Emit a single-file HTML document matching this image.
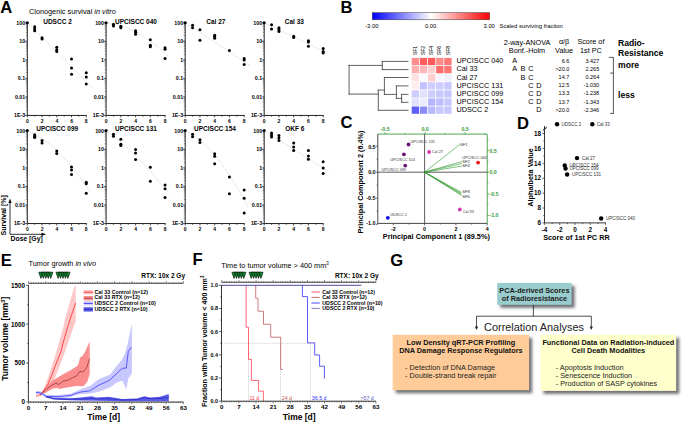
<!DOCTYPE html>
<html><head><meta charset="utf-8"><style>
html,body{margin:0;padding:0;background:#fff;overflow:hidden;}
svg{display:block;font-family:"Liberation Sans", sans-serif;}
</style></head><body>
<svg width="685" height="422" viewBox="0 0 685 422">
<defs>
<linearGradient id="cbar" x1="0" x2="1" y1="0" y2="0">
<stop offset="0" stop-color="#0000ff"/><stop offset="0.5" stop-color="#ffffff"/><stop offset="1" stop-color="#ff0000"/>
</linearGradient>
<filter id="sh" x="-20%" y="-30%" width="140%" height="160%"><feGaussianBlur stdDeviation="1.8"/></filter>
</defs>
<text x="0.30" y="12.60" font-size="16.6" font-weight="bold">A</text>
<text x="340.50" y="13.20" font-size="16.6" font-weight="bold">B</text>
<text x="340.50" y="128.40" font-size="16.6" font-weight="bold">C</text>
<text x="517.00" y="129.40" font-size="16.6" font-weight="bold">D</text>
<text x="0.80" y="265.50" font-size="16.6" font-weight="bold">E</text>
<text x="192.60" y="265.20" font-size="16.6" font-weight="bold">F</text>
<text x="390.20" y="265.70" font-size="16.6" font-weight="bold">G</text>
<text x="29" y="13.9" font-size="7.3">Clonogenic survival <tspan font-style="italic">in vitro</tspan></text>
<polyline points="27.30,22.70 92.16,87.90" stroke="#b8b8b8" stroke-width="0.5" fill="none" stroke-dasharray="1 0.6"/>
<line x1="27.30" y1="22.20" x2="27.30" y2="115.45" stroke="#222" stroke-width="1"/>
<line x1="27.30" y1="115.45" x2="86.76" y2="115.45" stroke="#222" stroke-width="1"/>
<line x1="25.30" y1="22.70" x2="27.30" y2="22.70" stroke="#222" stroke-width="0.8"/>
<line x1="25.90" y1="35.67" x2="27.30" y2="35.67" stroke="#444" stroke-width="0.5"/>
<line x1="25.90" y1="32.40" x2="27.30" y2="32.40" stroke="#444" stroke-width="0.5"/>
<line x1="25.90" y1="30.08" x2="27.30" y2="30.08" stroke="#444" stroke-width="0.5"/>
<line x1="25.90" y1="28.28" x2="27.30" y2="28.28" stroke="#444" stroke-width="0.5"/>
<line x1="25.90" y1="26.82" x2="27.30" y2="26.82" stroke="#444" stroke-width="0.5"/>
<line x1="25.90" y1="25.57" x2="27.30" y2="25.57" stroke="#444" stroke-width="0.5"/>
<line x1="25.90" y1="24.50" x2="27.30" y2="24.50" stroke="#444" stroke-width="0.5"/>
<line x1="25.90" y1="23.55" x2="27.30" y2="23.55" stroke="#444" stroke-width="0.5"/>
<line x1="25.30" y1="41.25" x2="27.30" y2="41.25" stroke="#222" stroke-width="0.8"/>
<line x1="25.90" y1="54.22" x2="27.30" y2="54.22" stroke="#444" stroke-width="0.5"/>
<line x1="25.90" y1="50.95" x2="27.30" y2="50.95" stroke="#444" stroke-width="0.5"/>
<line x1="25.90" y1="48.63" x2="27.30" y2="48.63" stroke="#444" stroke-width="0.5"/>
<line x1="25.90" y1="46.83" x2="27.30" y2="46.83" stroke="#444" stroke-width="0.5"/>
<line x1="25.90" y1="45.37" x2="27.30" y2="45.37" stroke="#444" stroke-width="0.5"/>
<line x1="25.90" y1="44.12" x2="27.30" y2="44.12" stroke="#444" stroke-width="0.5"/>
<line x1="25.90" y1="43.05" x2="27.30" y2="43.05" stroke="#444" stroke-width="0.5"/>
<line x1="25.90" y1="42.10" x2="27.30" y2="42.10" stroke="#444" stroke-width="0.5"/>
<line x1="25.30" y1="59.80" x2="27.30" y2="59.80" stroke="#222" stroke-width="0.8"/>
<line x1="25.90" y1="72.77" x2="27.30" y2="72.77" stroke="#444" stroke-width="0.5"/>
<line x1="25.90" y1="69.50" x2="27.30" y2="69.50" stroke="#444" stroke-width="0.5"/>
<line x1="25.90" y1="67.18" x2="27.30" y2="67.18" stroke="#444" stroke-width="0.5"/>
<line x1="25.90" y1="65.38" x2="27.30" y2="65.38" stroke="#444" stroke-width="0.5"/>
<line x1="25.90" y1="63.92" x2="27.30" y2="63.92" stroke="#444" stroke-width="0.5"/>
<line x1="25.90" y1="62.67" x2="27.30" y2="62.67" stroke="#444" stroke-width="0.5"/>
<line x1="25.90" y1="61.60" x2="27.30" y2="61.60" stroke="#444" stroke-width="0.5"/>
<line x1="25.90" y1="60.65" x2="27.30" y2="60.65" stroke="#444" stroke-width="0.5"/>
<line x1="25.30" y1="78.35" x2="27.30" y2="78.35" stroke="#222" stroke-width="0.8"/>
<line x1="25.90" y1="91.32" x2="27.30" y2="91.32" stroke="#444" stroke-width="0.5"/>
<line x1="25.90" y1="88.05" x2="27.30" y2="88.05" stroke="#444" stroke-width="0.5"/>
<line x1="25.90" y1="85.73" x2="27.30" y2="85.73" stroke="#444" stroke-width="0.5"/>
<line x1="25.90" y1="83.93" x2="27.30" y2="83.93" stroke="#444" stroke-width="0.5"/>
<line x1="25.90" y1="82.47" x2="27.30" y2="82.47" stroke="#444" stroke-width="0.5"/>
<line x1="25.90" y1="81.22" x2="27.30" y2="81.22" stroke="#444" stroke-width="0.5"/>
<line x1="25.90" y1="80.15" x2="27.30" y2="80.15" stroke="#444" stroke-width="0.5"/>
<line x1="25.90" y1="79.20" x2="27.30" y2="79.20" stroke="#444" stroke-width="0.5"/>
<line x1="25.30" y1="96.90" x2="27.30" y2="96.90" stroke="#222" stroke-width="0.8"/>
<line x1="25.90" y1="109.87" x2="27.30" y2="109.87" stroke="#444" stroke-width="0.5"/>
<line x1="25.90" y1="106.60" x2="27.30" y2="106.60" stroke="#444" stroke-width="0.5"/>
<line x1="25.90" y1="104.28" x2="27.30" y2="104.28" stroke="#444" stroke-width="0.5"/>
<line x1="25.90" y1="102.48" x2="27.30" y2="102.48" stroke="#444" stroke-width="0.5"/>
<line x1="25.90" y1="101.02" x2="27.30" y2="101.02" stroke="#444" stroke-width="0.5"/>
<line x1="25.90" y1="99.77" x2="27.30" y2="99.77" stroke="#444" stroke-width="0.5"/>
<line x1="25.90" y1="98.70" x2="27.30" y2="98.70" stroke="#444" stroke-width="0.5"/>
<line x1="25.90" y1="97.75" x2="27.30" y2="97.75" stroke="#444" stroke-width="0.5"/>
<line x1="25.30" y1="115.45" x2="27.30" y2="115.45" stroke="#222" stroke-width="0.8"/>
<text x="25.20" y="24.55" font-size="5.3" font-weight="bold" text-anchor="end">100</text>
<text x="25.20" y="43.10" font-size="5.3" font-weight="bold" text-anchor="end">10</text>
<text x="25.20" y="61.65" font-size="5.3" font-weight="bold" text-anchor="end">1</text>
<text x="25.20" y="80.20" font-size="5.3" font-weight="bold" text-anchor="end">0.1</text>
<text x="25.20" y="98.75" font-size="5.3" font-weight="bold" text-anchor="end">0.01</text>
<text x="25.20" y="117.30" font-size="5.3" font-weight="bold" text-anchor="end">1E-3</text>
<line x1="27.30" y1="115.45" x2="27.30" y2="117.45" stroke="#222" stroke-width="0.8"/>
<text x="27.30" y="122.75" font-size="5" font-weight="bold" text-anchor="middle">0</text>
<line x1="34.67" y1="115.45" x2="34.67" y2="116.65" stroke="#222" stroke-width="0.8"/>
<line x1="42.04" y1="115.45" x2="42.04" y2="117.45" stroke="#222" stroke-width="0.8"/>
<text x="42.04" y="122.75" font-size="5" font-weight="bold" text-anchor="middle">2</text>
<line x1="49.41" y1="115.45" x2="49.41" y2="116.65" stroke="#222" stroke-width="0.8"/>
<line x1="56.78" y1="115.45" x2="56.78" y2="117.45" stroke="#222" stroke-width="0.8"/>
<text x="56.78" y="122.75" font-size="5" font-weight="bold" text-anchor="middle">4</text>
<line x1="64.15" y1="115.45" x2="64.15" y2="116.65" stroke="#222" stroke-width="0.8"/>
<line x1="71.52" y1="115.45" x2="71.52" y2="117.45" stroke="#222" stroke-width="0.8"/>
<text x="71.52" y="122.75" font-size="5" font-weight="bold" text-anchor="middle">6</text>
<line x1="78.89" y1="115.45" x2="78.89" y2="116.65" stroke="#222" stroke-width="0.8"/>
<line x1="86.26" y1="115.45" x2="86.26" y2="117.45" stroke="#222" stroke-width="0.8"/>
<text x="86.26" y="122.75" font-size="5" font-weight="bold" text-anchor="middle">8</text>
<text x="57.50" y="23.60" font-size="6.5" font-weight="bold" text-anchor="middle">UDSCC 2</text>
<circle cx="27.30" cy="22.70" r="1.5" fill="#000"/>
<circle cx="34.67" cy="26.80" r="1.5" fill="#000"/>
<circle cx="34.67" cy="29.00" r="1.5" fill="#000"/>
<circle cx="34.67" cy="30.70" r="1.5" fill="#000"/>
<circle cx="42.04" cy="37.70" r="1.5" fill="#000"/>
<circle cx="42.04" cy="39.00" r="1.5" fill="#000"/>
<circle cx="56.78" cy="47.20" r="1.5" fill="#000"/>
<circle cx="56.78" cy="49.70" r="1.5" fill="#000"/>
<circle cx="56.78" cy="51.60" r="1.5" fill="#000"/>
<circle cx="71.52" cy="59.10" r="1.5" fill="#000"/>
<circle cx="71.52" cy="68.10" r="1.5" fill="#000"/>
<circle cx="71.52" cy="74.30" r="1.5" fill="#000"/>
<circle cx="86.26" cy="72.80" r="1.5" fill="#000"/>
<circle cx="86.26" cy="77.00" r="1.5" fill="#000"/>
<circle cx="86.26" cy="84.00" r="1.5" fill="#000"/>
<polyline points="106.10,22.70 109.78,23.14 113.47,23.78 117.16,24.61 120.84,25.64 124.52,26.87 128.21,28.29 131.89,29.90 135.58,31.72 139.26,33.72 142.95,35.93 146.63,38.33 150.32,40.92 154.00,43.71 157.69,46.70 161.38,49.88 165.06,53.26 168.75,56.83" stroke="#b8b8b8" stroke-width="0.5" fill="none" stroke-dasharray="1 0.6"/>
<line x1="106.10" y1="22.20" x2="106.10" y2="115.45" stroke="#222" stroke-width="1"/>
<line x1="106.10" y1="115.45" x2="165.56" y2="115.45" stroke="#222" stroke-width="1"/>
<line x1="104.10" y1="22.70" x2="106.10" y2="22.70" stroke="#222" stroke-width="0.8"/>
<line x1="104.70" y1="35.67" x2="106.10" y2="35.67" stroke="#444" stroke-width="0.5"/>
<line x1="104.70" y1="32.40" x2="106.10" y2="32.40" stroke="#444" stroke-width="0.5"/>
<line x1="104.70" y1="30.08" x2="106.10" y2="30.08" stroke="#444" stroke-width="0.5"/>
<line x1="104.70" y1="28.28" x2="106.10" y2="28.28" stroke="#444" stroke-width="0.5"/>
<line x1="104.70" y1="26.82" x2="106.10" y2="26.82" stroke="#444" stroke-width="0.5"/>
<line x1="104.70" y1="25.57" x2="106.10" y2="25.57" stroke="#444" stroke-width="0.5"/>
<line x1="104.70" y1="24.50" x2="106.10" y2="24.50" stroke="#444" stroke-width="0.5"/>
<line x1="104.70" y1="23.55" x2="106.10" y2="23.55" stroke="#444" stroke-width="0.5"/>
<line x1="104.10" y1="41.25" x2="106.10" y2="41.25" stroke="#222" stroke-width="0.8"/>
<line x1="104.70" y1="54.22" x2="106.10" y2="54.22" stroke="#444" stroke-width="0.5"/>
<line x1="104.70" y1="50.95" x2="106.10" y2="50.95" stroke="#444" stroke-width="0.5"/>
<line x1="104.70" y1="48.63" x2="106.10" y2="48.63" stroke="#444" stroke-width="0.5"/>
<line x1="104.70" y1="46.83" x2="106.10" y2="46.83" stroke="#444" stroke-width="0.5"/>
<line x1="104.70" y1="45.37" x2="106.10" y2="45.37" stroke="#444" stroke-width="0.5"/>
<line x1="104.70" y1="44.12" x2="106.10" y2="44.12" stroke="#444" stroke-width="0.5"/>
<line x1="104.70" y1="43.05" x2="106.10" y2="43.05" stroke="#444" stroke-width="0.5"/>
<line x1="104.70" y1="42.10" x2="106.10" y2="42.10" stroke="#444" stroke-width="0.5"/>
<line x1="104.10" y1="59.80" x2="106.10" y2="59.80" stroke="#222" stroke-width="0.8"/>
<line x1="104.70" y1="72.77" x2="106.10" y2="72.77" stroke="#444" stroke-width="0.5"/>
<line x1="104.70" y1="69.50" x2="106.10" y2="69.50" stroke="#444" stroke-width="0.5"/>
<line x1="104.70" y1="67.18" x2="106.10" y2="67.18" stroke="#444" stroke-width="0.5"/>
<line x1="104.70" y1="65.38" x2="106.10" y2="65.38" stroke="#444" stroke-width="0.5"/>
<line x1="104.70" y1="63.92" x2="106.10" y2="63.92" stroke="#444" stroke-width="0.5"/>
<line x1="104.70" y1="62.67" x2="106.10" y2="62.67" stroke="#444" stroke-width="0.5"/>
<line x1="104.70" y1="61.60" x2="106.10" y2="61.60" stroke="#444" stroke-width="0.5"/>
<line x1="104.70" y1="60.65" x2="106.10" y2="60.65" stroke="#444" stroke-width="0.5"/>
<line x1="104.10" y1="78.35" x2="106.10" y2="78.35" stroke="#222" stroke-width="0.8"/>
<line x1="104.70" y1="91.32" x2="106.10" y2="91.32" stroke="#444" stroke-width="0.5"/>
<line x1="104.70" y1="88.05" x2="106.10" y2="88.05" stroke="#444" stroke-width="0.5"/>
<line x1="104.70" y1="85.73" x2="106.10" y2="85.73" stroke="#444" stroke-width="0.5"/>
<line x1="104.70" y1="83.93" x2="106.10" y2="83.93" stroke="#444" stroke-width="0.5"/>
<line x1="104.70" y1="82.47" x2="106.10" y2="82.47" stroke="#444" stroke-width="0.5"/>
<line x1="104.70" y1="81.22" x2="106.10" y2="81.22" stroke="#444" stroke-width="0.5"/>
<line x1="104.70" y1="80.15" x2="106.10" y2="80.15" stroke="#444" stroke-width="0.5"/>
<line x1="104.70" y1="79.20" x2="106.10" y2="79.20" stroke="#444" stroke-width="0.5"/>
<line x1="104.10" y1="96.90" x2="106.10" y2="96.90" stroke="#222" stroke-width="0.8"/>
<line x1="104.70" y1="109.87" x2="106.10" y2="109.87" stroke="#444" stroke-width="0.5"/>
<line x1="104.70" y1="106.60" x2="106.10" y2="106.60" stroke="#444" stroke-width="0.5"/>
<line x1="104.70" y1="104.28" x2="106.10" y2="104.28" stroke="#444" stroke-width="0.5"/>
<line x1="104.70" y1="102.48" x2="106.10" y2="102.48" stroke="#444" stroke-width="0.5"/>
<line x1="104.70" y1="101.02" x2="106.10" y2="101.02" stroke="#444" stroke-width="0.5"/>
<line x1="104.70" y1="99.77" x2="106.10" y2="99.77" stroke="#444" stroke-width="0.5"/>
<line x1="104.70" y1="98.70" x2="106.10" y2="98.70" stroke="#444" stroke-width="0.5"/>
<line x1="104.70" y1="97.75" x2="106.10" y2="97.75" stroke="#444" stroke-width="0.5"/>
<line x1="104.10" y1="115.45" x2="106.10" y2="115.45" stroke="#222" stroke-width="0.8"/>
<text x="104.00" y="24.55" font-size="5.3" font-weight="bold" text-anchor="end">100</text>
<text x="104.00" y="43.10" font-size="5.3" font-weight="bold" text-anchor="end">10</text>
<text x="104.00" y="61.65" font-size="5.3" font-weight="bold" text-anchor="end">1</text>
<text x="104.00" y="80.20" font-size="5.3" font-weight="bold" text-anchor="end">0.1</text>
<text x="104.00" y="98.75" font-size="5.3" font-weight="bold" text-anchor="end">0.01</text>
<text x="104.00" y="117.30" font-size="5.3" font-weight="bold" text-anchor="end">1E-3</text>
<line x1="106.10" y1="115.45" x2="106.10" y2="117.45" stroke="#222" stroke-width="0.8"/>
<text x="106.10" y="122.75" font-size="5" font-weight="bold" text-anchor="middle">0</text>
<line x1="113.47" y1="115.45" x2="113.47" y2="116.65" stroke="#222" stroke-width="0.8"/>
<line x1="120.84" y1="115.45" x2="120.84" y2="117.45" stroke="#222" stroke-width="0.8"/>
<text x="120.84" y="122.75" font-size="5" font-weight="bold" text-anchor="middle">2</text>
<line x1="128.21" y1="115.45" x2="128.21" y2="116.65" stroke="#222" stroke-width="0.8"/>
<line x1="135.58" y1="115.45" x2="135.58" y2="117.45" stroke="#222" stroke-width="0.8"/>
<text x="135.58" y="122.75" font-size="5" font-weight="bold" text-anchor="middle">4</text>
<line x1="142.95" y1="115.45" x2="142.95" y2="116.65" stroke="#222" stroke-width="0.8"/>
<line x1="150.32" y1="115.45" x2="150.32" y2="117.45" stroke="#222" stroke-width="0.8"/>
<text x="150.32" y="122.75" font-size="5" font-weight="bold" text-anchor="middle">6</text>
<line x1="157.69" y1="115.45" x2="157.69" y2="116.65" stroke="#222" stroke-width="0.8"/>
<line x1="165.06" y1="115.45" x2="165.06" y2="117.45" stroke="#222" stroke-width="0.8"/>
<text x="165.06" y="122.75" font-size="5" font-weight="bold" text-anchor="middle">8</text>
<text x="136.00" y="23.60" font-size="6.5" font-weight="bold" text-anchor="middle">UPCISCC 040</text>
<circle cx="106.10" cy="22.70" r="1.5" fill="#000"/>
<circle cx="113.47" cy="24.30" r="1.5" fill="#000"/>
<circle cx="113.47" cy="26.00" r="1.5" fill="#000"/>
<circle cx="120.84" cy="26.30" r="1.5" fill="#000"/>
<circle cx="120.84" cy="27.80" r="1.5" fill="#000"/>
<circle cx="135.58" cy="30.70" r="1.5" fill="#000"/>
<circle cx="135.58" cy="32.20" r="1.5" fill="#000"/>
<circle cx="135.58" cy="34.20" r="1.5" fill="#000"/>
<circle cx="150.32" cy="39.70" r="1.5" fill="#000"/>
<circle cx="150.32" cy="45.20" r="1.5" fill="#000"/>
<circle cx="150.32" cy="46.70" r="1.5" fill="#000"/>
<circle cx="165.06" cy="47.70" r="1.5" fill="#000"/>
<circle cx="165.06" cy="49.20" r="1.5" fill="#000"/>
<circle cx="165.06" cy="58.60" r="1.5" fill="#000"/>
<polyline points="185.20,22.70 250.06,65.50" stroke="#b8b8b8" stroke-width="0.5" fill="none" stroke-dasharray="1 0.6"/>
<line x1="185.20" y1="22.20" x2="185.20" y2="115.45" stroke="#222" stroke-width="1"/>
<line x1="185.20" y1="115.45" x2="244.66" y2="115.45" stroke="#222" stroke-width="1"/>
<line x1="183.20" y1="22.70" x2="185.20" y2="22.70" stroke="#222" stroke-width="0.8"/>
<line x1="183.80" y1="35.67" x2="185.20" y2="35.67" stroke="#444" stroke-width="0.5"/>
<line x1="183.80" y1="32.40" x2="185.20" y2="32.40" stroke="#444" stroke-width="0.5"/>
<line x1="183.80" y1="30.08" x2="185.20" y2="30.08" stroke="#444" stroke-width="0.5"/>
<line x1="183.80" y1="28.28" x2="185.20" y2="28.28" stroke="#444" stroke-width="0.5"/>
<line x1="183.80" y1="26.82" x2="185.20" y2="26.82" stroke="#444" stroke-width="0.5"/>
<line x1="183.80" y1="25.57" x2="185.20" y2="25.57" stroke="#444" stroke-width="0.5"/>
<line x1="183.80" y1="24.50" x2="185.20" y2="24.50" stroke="#444" stroke-width="0.5"/>
<line x1="183.80" y1="23.55" x2="185.20" y2="23.55" stroke="#444" stroke-width="0.5"/>
<line x1="183.20" y1="41.25" x2="185.20" y2="41.25" stroke="#222" stroke-width="0.8"/>
<line x1="183.80" y1="54.22" x2="185.20" y2="54.22" stroke="#444" stroke-width="0.5"/>
<line x1="183.80" y1="50.95" x2="185.20" y2="50.95" stroke="#444" stroke-width="0.5"/>
<line x1="183.80" y1="48.63" x2="185.20" y2="48.63" stroke="#444" stroke-width="0.5"/>
<line x1="183.80" y1="46.83" x2="185.20" y2="46.83" stroke="#444" stroke-width="0.5"/>
<line x1="183.80" y1="45.37" x2="185.20" y2="45.37" stroke="#444" stroke-width="0.5"/>
<line x1="183.80" y1="44.12" x2="185.20" y2="44.12" stroke="#444" stroke-width="0.5"/>
<line x1="183.80" y1="43.05" x2="185.20" y2="43.05" stroke="#444" stroke-width="0.5"/>
<line x1="183.80" y1="42.10" x2="185.20" y2="42.10" stroke="#444" stroke-width="0.5"/>
<line x1="183.20" y1="59.80" x2="185.20" y2="59.80" stroke="#222" stroke-width="0.8"/>
<line x1="183.80" y1="72.77" x2="185.20" y2="72.77" stroke="#444" stroke-width="0.5"/>
<line x1="183.80" y1="69.50" x2="185.20" y2="69.50" stroke="#444" stroke-width="0.5"/>
<line x1="183.80" y1="67.18" x2="185.20" y2="67.18" stroke="#444" stroke-width="0.5"/>
<line x1="183.80" y1="65.38" x2="185.20" y2="65.38" stroke="#444" stroke-width="0.5"/>
<line x1="183.80" y1="63.92" x2="185.20" y2="63.92" stroke="#444" stroke-width="0.5"/>
<line x1="183.80" y1="62.67" x2="185.20" y2="62.67" stroke="#444" stroke-width="0.5"/>
<line x1="183.80" y1="61.60" x2="185.20" y2="61.60" stroke="#444" stroke-width="0.5"/>
<line x1="183.80" y1="60.65" x2="185.20" y2="60.65" stroke="#444" stroke-width="0.5"/>
<line x1="183.20" y1="78.35" x2="185.20" y2="78.35" stroke="#222" stroke-width="0.8"/>
<line x1="183.80" y1="91.32" x2="185.20" y2="91.32" stroke="#444" stroke-width="0.5"/>
<line x1="183.80" y1="88.05" x2="185.20" y2="88.05" stroke="#444" stroke-width="0.5"/>
<line x1="183.80" y1="85.73" x2="185.20" y2="85.73" stroke="#444" stroke-width="0.5"/>
<line x1="183.80" y1="83.93" x2="185.20" y2="83.93" stroke="#444" stroke-width="0.5"/>
<line x1="183.80" y1="82.47" x2="185.20" y2="82.47" stroke="#444" stroke-width="0.5"/>
<line x1="183.80" y1="81.22" x2="185.20" y2="81.22" stroke="#444" stroke-width="0.5"/>
<line x1="183.80" y1="80.15" x2="185.20" y2="80.15" stroke="#444" stroke-width="0.5"/>
<line x1="183.80" y1="79.20" x2="185.20" y2="79.20" stroke="#444" stroke-width="0.5"/>
<line x1="183.20" y1="96.90" x2="185.20" y2="96.90" stroke="#222" stroke-width="0.8"/>
<line x1="183.80" y1="109.87" x2="185.20" y2="109.87" stroke="#444" stroke-width="0.5"/>
<line x1="183.80" y1="106.60" x2="185.20" y2="106.60" stroke="#444" stroke-width="0.5"/>
<line x1="183.80" y1="104.28" x2="185.20" y2="104.28" stroke="#444" stroke-width="0.5"/>
<line x1="183.80" y1="102.48" x2="185.20" y2="102.48" stroke="#444" stroke-width="0.5"/>
<line x1="183.80" y1="101.02" x2="185.20" y2="101.02" stroke="#444" stroke-width="0.5"/>
<line x1="183.80" y1="99.77" x2="185.20" y2="99.77" stroke="#444" stroke-width="0.5"/>
<line x1="183.80" y1="98.70" x2="185.20" y2="98.70" stroke="#444" stroke-width="0.5"/>
<line x1="183.80" y1="97.75" x2="185.20" y2="97.75" stroke="#444" stroke-width="0.5"/>
<line x1="183.20" y1="115.45" x2="185.20" y2="115.45" stroke="#222" stroke-width="0.8"/>
<text x="183.10" y="24.55" font-size="5.3" font-weight="bold" text-anchor="end">100</text>
<text x="183.10" y="43.10" font-size="5.3" font-weight="bold" text-anchor="end">10</text>
<text x="183.10" y="61.65" font-size="5.3" font-weight="bold" text-anchor="end">1</text>
<text x="183.10" y="80.20" font-size="5.3" font-weight="bold" text-anchor="end">0.1</text>
<text x="183.10" y="98.75" font-size="5.3" font-weight="bold" text-anchor="end">0.01</text>
<text x="183.10" y="117.30" font-size="5.3" font-weight="bold" text-anchor="end">1E-3</text>
<line x1="185.20" y1="115.45" x2="185.20" y2="117.45" stroke="#222" stroke-width="0.8"/>
<text x="185.20" y="122.75" font-size="5" font-weight="bold" text-anchor="middle">0</text>
<line x1="192.57" y1="115.45" x2="192.57" y2="116.65" stroke="#222" stroke-width="0.8"/>
<line x1="199.94" y1="115.45" x2="199.94" y2="117.45" stroke="#222" stroke-width="0.8"/>
<text x="199.94" y="122.75" font-size="5" font-weight="bold" text-anchor="middle">2</text>
<line x1="207.31" y1="115.45" x2="207.31" y2="116.65" stroke="#222" stroke-width="0.8"/>
<line x1="214.68" y1="115.45" x2="214.68" y2="117.45" stroke="#222" stroke-width="0.8"/>
<text x="214.68" y="122.75" font-size="5" font-weight="bold" text-anchor="middle">4</text>
<line x1="222.05" y1="115.45" x2="222.05" y2="116.65" stroke="#222" stroke-width="0.8"/>
<line x1="229.42" y1="115.45" x2="229.42" y2="117.45" stroke="#222" stroke-width="0.8"/>
<text x="229.42" y="122.75" font-size="5" font-weight="bold" text-anchor="middle">6</text>
<line x1="236.79" y1="115.45" x2="236.79" y2="116.65" stroke="#222" stroke-width="0.8"/>
<line x1="244.16" y1="115.45" x2="244.16" y2="117.45" stroke="#222" stroke-width="0.8"/>
<text x="244.16" y="122.75" font-size="5" font-weight="bold" text-anchor="middle">8</text>
<text x="215.80" y="23.60" font-size="6.5" font-weight="bold" text-anchor="middle">Cal 27</text>
<circle cx="185.20" cy="22.70" r="1.5" fill="#000"/>
<circle cx="192.57" cy="25.30" r="1.5" fill="#000"/>
<circle cx="192.57" cy="27.80" r="1.5" fill="#000"/>
<circle cx="199.94" cy="29.80" r="1.5" fill="#000"/>
<circle cx="199.94" cy="40.20" r="1.5" fill="#000"/>
<circle cx="214.68" cy="35.20" r="1.5" fill="#000"/>
<circle cx="214.68" cy="36.70" r="1.5" fill="#000"/>
<circle cx="214.68" cy="38.20" r="1.5" fill="#000"/>
<circle cx="229.42" cy="50.40" r="1.5" fill="#000"/>
<circle cx="244.16" cy="58.60" r="1.5" fill="#000"/>
<circle cx="244.16" cy="60.10" r="1.5" fill="#000"/>
<circle cx="244.16" cy="64.60" r="1.5" fill="#000"/>
<polyline points="264.20,22.70 329.06,53.80" stroke="#b8b8b8" stroke-width="0.5" fill="none" stroke-dasharray="1 0.6"/>
<line x1="264.20" y1="22.20" x2="264.20" y2="115.45" stroke="#222" stroke-width="1"/>
<line x1="264.20" y1="115.45" x2="323.66" y2="115.45" stroke="#222" stroke-width="1"/>
<line x1="262.20" y1="22.70" x2="264.20" y2="22.70" stroke="#222" stroke-width="0.8"/>
<line x1="262.80" y1="35.67" x2="264.20" y2="35.67" stroke="#444" stroke-width="0.5"/>
<line x1="262.80" y1="32.40" x2="264.20" y2="32.40" stroke="#444" stroke-width="0.5"/>
<line x1="262.80" y1="30.08" x2="264.20" y2="30.08" stroke="#444" stroke-width="0.5"/>
<line x1="262.80" y1="28.28" x2="264.20" y2="28.28" stroke="#444" stroke-width="0.5"/>
<line x1="262.80" y1="26.82" x2="264.20" y2="26.82" stroke="#444" stroke-width="0.5"/>
<line x1="262.80" y1="25.57" x2="264.20" y2="25.57" stroke="#444" stroke-width="0.5"/>
<line x1="262.80" y1="24.50" x2="264.20" y2="24.50" stroke="#444" stroke-width="0.5"/>
<line x1="262.80" y1="23.55" x2="264.20" y2="23.55" stroke="#444" stroke-width="0.5"/>
<line x1="262.20" y1="41.25" x2="264.20" y2="41.25" stroke="#222" stroke-width="0.8"/>
<line x1="262.80" y1="54.22" x2="264.20" y2="54.22" stroke="#444" stroke-width="0.5"/>
<line x1="262.80" y1="50.95" x2="264.20" y2="50.95" stroke="#444" stroke-width="0.5"/>
<line x1="262.80" y1="48.63" x2="264.20" y2="48.63" stroke="#444" stroke-width="0.5"/>
<line x1="262.80" y1="46.83" x2="264.20" y2="46.83" stroke="#444" stroke-width="0.5"/>
<line x1="262.80" y1="45.37" x2="264.20" y2="45.37" stroke="#444" stroke-width="0.5"/>
<line x1="262.80" y1="44.12" x2="264.20" y2="44.12" stroke="#444" stroke-width="0.5"/>
<line x1="262.80" y1="43.05" x2="264.20" y2="43.05" stroke="#444" stroke-width="0.5"/>
<line x1="262.80" y1="42.10" x2="264.20" y2="42.10" stroke="#444" stroke-width="0.5"/>
<line x1="262.20" y1="59.80" x2="264.20" y2="59.80" stroke="#222" stroke-width="0.8"/>
<line x1="262.80" y1="72.77" x2="264.20" y2="72.77" stroke="#444" stroke-width="0.5"/>
<line x1="262.80" y1="69.50" x2="264.20" y2="69.50" stroke="#444" stroke-width="0.5"/>
<line x1="262.80" y1="67.18" x2="264.20" y2="67.18" stroke="#444" stroke-width="0.5"/>
<line x1="262.80" y1="65.38" x2="264.20" y2="65.38" stroke="#444" stroke-width="0.5"/>
<line x1="262.80" y1="63.92" x2="264.20" y2="63.92" stroke="#444" stroke-width="0.5"/>
<line x1="262.80" y1="62.67" x2="264.20" y2="62.67" stroke="#444" stroke-width="0.5"/>
<line x1="262.80" y1="61.60" x2="264.20" y2="61.60" stroke="#444" stroke-width="0.5"/>
<line x1="262.80" y1="60.65" x2="264.20" y2="60.65" stroke="#444" stroke-width="0.5"/>
<line x1="262.20" y1="78.35" x2="264.20" y2="78.35" stroke="#222" stroke-width="0.8"/>
<line x1="262.80" y1="91.32" x2="264.20" y2="91.32" stroke="#444" stroke-width="0.5"/>
<line x1="262.80" y1="88.05" x2="264.20" y2="88.05" stroke="#444" stroke-width="0.5"/>
<line x1="262.80" y1="85.73" x2="264.20" y2="85.73" stroke="#444" stroke-width="0.5"/>
<line x1="262.80" y1="83.93" x2="264.20" y2="83.93" stroke="#444" stroke-width="0.5"/>
<line x1="262.80" y1="82.47" x2="264.20" y2="82.47" stroke="#444" stroke-width="0.5"/>
<line x1="262.80" y1="81.22" x2="264.20" y2="81.22" stroke="#444" stroke-width="0.5"/>
<line x1="262.80" y1="80.15" x2="264.20" y2="80.15" stroke="#444" stroke-width="0.5"/>
<line x1="262.80" y1="79.20" x2="264.20" y2="79.20" stroke="#444" stroke-width="0.5"/>
<line x1="262.20" y1="96.90" x2="264.20" y2="96.90" stroke="#222" stroke-width="0.8"/>
<line x1="262.80" y1="109.87" x2="264.20" y2="109.87" stroke="#444" stroke-width="0.5"/>
<line x1="262.80" y1="106.60" x2="264.20" y2="106.60" stroke="#444" stroke-width="0.5"/>
<line x1="262.80" y1="104.28" x2="264.20" y2="104.28" stroke="#444" stroke-width="0.5"/>
<line x1="262.80" y1="102.48" x2="264.20" y2="102.48" stroke="#444" stroke-width="0.5"/>
<line x1="262.80" y1="101.02" x2="264.20" y2="101.02" stroke="#444" stroke-width="0.5"/>
<line x1="262.80" y1="99.77" x2="264.20" y2="99.77" stroke="#444" stroke-width="0.5"/>
<line x1="262.80" y1="98.70" x2="264.20" y2="98.70" stroke="#444" stroke-width="0.5"/>
<line x1="262.80" y1="97.75" x2="264.20" y2="97.75" stroke="#444" stroke-width="0.5"/>
<line x1="262.20" y1="115.45" x2="264.20" y2="115.45" stroke="#222" stroke-width="0.8"/>
<text x="262.10" y="24.55" font-size="5.3" font-weight="bold" text-anchor="end">100</text>
<text x="262.10" y="43.10" font-size="5.3" font-weight="bold" text-anchor="end">10</text>
<text x="262.10" y="61.65" font-size="5.3" font-weight="bold" text-anchor="end">1</text>
<text x="262.10" y="80.20" font-size="5.3" font-weight="bold" text-anchor="end">0.1</text>
<text x="262.10" y="98.75" font-size="5.3" font-weight="bold" text-anchor="end">0.01</text>
<text x="262.10" y="117.30" font-size="5.3" font-weight="bold" text-anchor="end">1E-3</text>
<line x1="264.20" y1="115.45" x2="264.20" y2="117.45" stroke="#222" stroke-width="0.8"/>
<text x="264.20" y="122.75" font-size="5" font-weight="bold" text-anchor="middle">0</text>
<line x1="271.57" y1="115.45" x2="271.57" y2="116.65" stroke="#222" stroke-width="0.8"/>
<line x1="278.94" y1="115.45" x2="278.94" y2="117.45" stroke="#222" stroke-width="0.8"/>
<text x="278.94" y="122.75" font-size="5" font-weight="bold" text-anchor="middle">2</text>
<line x1="286.31" y1="115.45" x2="286.31" y2="116.65" stroke="#222" stroke-width="0.8"/>
<line x1="293.68" y1="115.45" x2="293.68" y2="117.45" stroke="#222" stroke-width="0.8"/>
<text x="293.68" y="122.75" font-size="5" font-weight="bold" text-anchor="middle">4</text>
<line x1="301.05" y1="115.45" x2="301.05" y2="116.65" stroke="#222" stroke-width="0.8"/>
<line x1="308.42" y1="115.45" x2="308.42" y2="117.45" stroke="#222" stroke-width="0.8"/>
<text x="308.42" y="122.75" font-size="5" font-weight="bold" text-anchor="middle">6</text>
<line x1="315.79" y1="115.45" x2="315.79" y2="116.65" stroke="#222" stroke-width="0.8"/>
<line x1="323.16" y1="115.45" x2="323.16" y2="117.45" stroke="#222" stroke-width="0.8"/>
<text x="323.16" y="122.75" font-size="5" font-weight="bold" text-anchor="middle">8</text>
<text x="294.30" y="23.60" font-size="6.5" font-weight="bold" text-anchor="middle">Cal 33</text>
<circle cx="264.20" cy="22.70" r="1.5" fill="#000"/>
<circle cx="271.57" cy="24.80" r="1.5" fill="#000"/>
<circle cx="271.57" cy="29.00" r="1.5" fill="#000"/>
<circle cx="278.94" cy="27.80" r="1.5" fill="#000"/>
<circle cx="278.94" cy="29.50" r="1.5" fill="#000"/>
<circle cx="278.94" cy="31.50" r="1.5" fill="#000"/>
<circle cx="293.68" cy="36.20" r="1.5" fill="#000"/>
<circle cx="293.68" cy="37.50" r="1.5" fill="#000"/>
<circle cx="308.42" cy="40.70" r="1.5" fill="#000"/>
<circle cx="308.42" cy="41.90" r="1.5" fill="#000"/>
<circle cx="308.42" cy="46.20" r="1.5" fill="#000"/>
<circle cx="323.16" cy="48.40" r="1.5" fill="#000"/>
<circle cx="323.16" cy="51.60" r="1.5" fill="#000"/>
<circle cx="323.16" cy="53.10" r="1.5" fill="#000"/>
<polyline points="27.30,130.80 30.98,132.38 34.67,134.21 38.36,136.30 42.04,138.63 45.73,141.21 49.41,144.04 53.09,147.13 56.78,150.46 60.47,154.05 64.15,157.88 67.84,161.97 71.52,166.30 75.20,170.89 78.89,175.73 82.58,180.82 86.26,186.15 89.95,191.74" stroke="#b8b8b8" stroke-width="0.5" fill="none" stroke-dasharray="1 0.6"/>
<line x1="27.30" y1="130.30" x2="27.30" y2="223.55" stroke="#222" stroke-width="1"/>
<line x1="27.30" y1="223.55" x2="86.76" y2="223.55" stroke="#222" stroke-width="1"/>
<line x1="25.30" y1="130.80" x2="27.30" y2="130.80" stroke="#222" stroke-width="0.8"/>
<line x1="25.90" y1="143.77" x2="27.30" y2="143.77" stroke="#444" stroke-width="0.5"/>
<line x1="25.90" y1="140.50" x2="27.30" y2="140.50" stroke="#444" stroke-width="0.5"/>
<line x1="25.90" y1="138.18" x2="27.30" y2="138.18" stroke="#444" stroke-width="0.5"/>
<line x1="25.90" y1="136.38" x2="27.30" y2="136.38" stroke="#444" stroke-width="0.5"/>
<line x1="25.90" y1="134.92" x2="27.30" y2="134.92" stroke="#444" stroke-width="0.5"/>
<line x1="25.90" y1="133.67" x2="27.30" y2="133.67" stroke="#444" stroke-width="0.5"/>
<line x1="25.90" y1="132.60" x2="27.30" y2="132.60" stroke="#444" stroke-width="0.5"/>
<line x1="25.90" y1="131.65" x2="27.30" y2="131.65" stroke="#444" stroke-width="0.5"/>
<line x1="25.30" y1="149.35" x2="27.30" y2="149.35" stroke="#222" stroke-width="0.8"/>
<line x1="25.90" y1="162.32" x2="27.30" y2="162.32" stroke="#444" stroke-width="0.5"/>
<line x1="25.90" y1="159.05" x2="27.30" y2="159.05" stroke="#444" stroke-width="0.5"/>
<line x1="25.90" y1="156.73" x2="27.30" y2="156.73" stroke="#444" stroke-width="0.5"/>
<line x1="25.90" y1="154.93" x2="27.30" y2="154.93" stroke="#444" stroke-width="0.5"/>
<line x1="25.90" y1="153.47" x2="27.30" y2="153.47" stroke="#444" stroke-width="0.5"/>
<line x1="25.90" y1="152.22" x2="27.30" y2="152.22" stroke="#444" stroke-width="0.5"/>
<line x1="25.90" y1="151.15" x2="27.30" y2="151.15" stroke="#444" stroke-width="0.5"/>
<line x1="25.90" y1="150.20" x2="27.30" y2="150.20" stroke="#444" stroke-width="0.5"/>
<line x1="25.30" y1="167.90" x2="27.30" y2="167.90" stroke="#222" stroke-width="0.8"/>
<line x1="25.90" y1="180.87" x2="27.30" y2="180.87" stroke="#444" stroke-width="0.5"/>
<line x1="25.90" y1="177.60" x2="27.30" y2="177.60" stroke="#444" stroke-width="0.5"/>
<line x1="25.90" y1="175.28" x2="27.30" y2="175.28" stroke="#444" stroke-width="0.5"/>
<line x1="25.90" y1="173.48" x2="27.30" y2="173.48" stroke="#444" stroke-width="0.5"/>
<line x1="25.90" y1="172.02" x2="27.30" y2="172.02" stroke="#444" stroke-width="0.5"/>
<line x1="25.90" y1="170.77" x2="27.30" y2="170.77" stroke="#444" stroke-width="0.5"/>
<line x1="25.90" y1="169.70" x2="27.30" y2="169.70" stroke="#444" stroke-width="0.5"/>
<line x1="25.90" y1="168.75" x2="27.30" y2="168.75" stroke="#444" stroke-width="0.5"/>
<line x1="25.30" y1="186.45" x2="27.30" y2="186.45" stroke="#222" stroke-width="0.8"/>
<line x1="25.90" y1="199.42" x2="27.30" y2="199.42" stroke="#444" stroke-width="0.5"/>
<line x1="25.90" y1="196.15" x2="27.30" y2="196.15" stroke="#444" stroke-width="0.5"/>
<line x1="25.90" y1="193.83" x2="27.30" y2="193.83" stroke="#444" stroke-width="0.5"/>
<line x1="25.90" y1="192.03" x2="27.30" y2="192.03" stroke="#444" stroke-width="0.5"/>
<line x1="25.90" y1="190.57" x2="27.30" y2="190.57" stroke="#444" stroke-width="0.5"/>
<line x1="25.90" y1="189.32" x2="27.30" y2="189.32" stroke="#444" stroke-width="0.5"/>
<line x1="25.90" y1="188.25" x2="27.30" y2="188.25" stroke="#444" stroke-width="0.5"/>
<line x1="25.90" y1="187.30" x2="27.30" y2="187.30" stroke="#444" stroke-width="0.5"/>
<line x1="25.30" y1="205.00" x2="27.30" y2="205.00" stroke="#222" stroke-width="0.8"/>
<line x1="25.90" y1="217.97" x2="27.30" y2="217.97" stroke="#444" stroke-width="0.5"/>
<line x1="25.90" y1="214.70" x2="27.30" y2="214.70" stroke="#444" stroke-width="0.5"/>
<line x1="25.90" y1="212.38" x2="27.30" y2="212.38" stroke="#444" stroke-width="0.5"/>
<line x1="25.90" y1="210.58" x2="27.30" y2="210.58" stroke="#444" stroke-width="0.5"/>
<line x1="25.90" y1="209.12" x2="27.30" y2="209.12" stroke="#444" stroke-width="0.5"/>
<line x1="25.90" y1="207.87" x2="27.30" y2="207.87" stroke="#444" stroke-width="0.5"/>
<line x1="25.90" y1="206.80" x2="27.30" y2="206.80" stroke="#444" stroke-width="0.5"/>
<line x1="25.90" y1="205.85" x2="27.30" y2="205.85" stroke="#444" stroke-width="0.5"/>
<line x1="25.30" y1="223.55" x2="27.30" y2="223.55" stroke="#222" stroke-width="0.8"/>
<text x="25.20" y="132.65" font-size="5.3" font-weight="bold" text-anchor="end">100</text>
<text x="25.20" y="151.20" font-size="5.3" font-weight="bold" text-anchor="end">10</text>
<text x="25.20" y="169.75" font-size="5.3" font-weight="bold" text-anchor="end">1</text>
<text x="25.20" y="188.30" font-size="5.3" font-weight="bold" text-anchor="end">0.1</text>
<text x="25.20" y="206.85" font-size="5.3" font-weight="bold" text-anchor="end">0.01</text>
<text x="25.20" y="225.40" font-size="5.3" font-weight="bold" text-anchor="end">1E-3</text>
<line x1="27.30" y1="223.55" x2="27.30" y2="225.55" stroke="#222" stroke-width="0.8"/>
<text x="27.30" y="230.85" font-size="5" font-weight="bold" text-anchor="middle">0</text>
<line x1="34.67" y1="223.55" x2="34.67" y2="224.75" stroke="#222" stroke-width="0.8"/>
<line x1="42.04" y1="223.55" x2="42.04" y2="225.55" stroke="#222" stroke-width="0.8"/>
<text x="42.04" y="230.85" font-size="5" font-weight="bold" text-anchor="middle">2</text>
<line x1="49.41" y1="223.55" x2="49.41" y2="224.75" stroke="#222" stroke-width="0.8"/>
<line x1="56.78" y1="223.55" x2="56.78" y2="225.55" stroke="#222" stroke-width="0.8"/>
<text x="56.78" y="230.85" font-size="5" font-weight="bold" text-anchor="middle">4</text>
<line x1="64.15" y1="223.55" x2="64.15" y2="224.75" stroke="#222" stroke-width="0.8"/>
<line x1="71.52" y1="223.55" x2="71.52" y2="225.55" stroke="#222" stroke-width="0.8"/>
<text x="71.52" y="230.85" font-size="5" font-weight="bold" text-anchor="middle">6</text>
<line x1="78.89" y1="223.55" x2="78.89" y2="224.75" stroke="#222" stroke-width="0.8"/>
<line x1="86.26" y1="223.55" x2="86.26" y2="225.55" stroke="#222" stroke-width="0.8"/>
<text x="86.26" y="230.85" font-size="5" font-weight="bold" text-anchor="middle">8</text>
<text x="57.20" y="131.40" font-size="6.5" font-weight="bold" text-anchor="middle">UPCISCC 099</text>
<circle cx="27.30" cy="130.60" r="1.5" fill="#000"/>
<circle cx="34.67" cy="134.80" r="1.5" fill="#000"/>
<circle cx="34.67" cy="136.30" r="1.5" fill="#000"/>
<circle cx="34.67" cy="137.60" r="1.5" fill="#000"/>
<circle cx="42.04" cy="140.60" r="1.5" fill="#000"/>
<circle cx="42.04" cy="143.00" r="1.5" fill="#000"/>
<circle cx="56.78" cy="151.00" r="1.5" fill="#000"/>
<circle cx="56.78" cy="153.50" r="1.5" fill="#000"/>
<circle cx="71.52" cy="166.90" r="1.5" fill="#000"/>
<circle cx="71.52" cy="169.90" r="1.5" fill="#000"/>
<circle cx="71.52" cy="174.40" r="1.5" fill="#000"/>
<circle cx="86.26" cy="182.30" r="1.5" fill="#000"/>
<circle cx="86.26" cy="183.80" r="1.5" fill="#000"/>
<circle cx="86.26" cy="193.30" r="1.5" fill="#000"/>
<polyline points="106.10,130.80 109.78,133.51 113.47,136.33 117.16,139.28 120.84,142.35 124.52,145.54 128.21,148.85 131.89,152.29 135.58,155.84 139.26,159.51 142.95,163.31 146.63,167.22 150.32,171.26 154.00,175.42 157.69,179.70 161.38,184.10 165.06,188.62 168.75,193.26" stroke="#b8b8b8" stroke-width="0.5" fill="none" stroke-dasharray="1 0.6"/>
<line x1="106.10" y1="130.30" x2="106.10" y2="223.55" stroke="#222" stroke-width="1"/>
<line x1="106.10" y1="223.55" x2="165.56" y2="223.55" stroke="#222" stroke-width="1"/>
<line x1="104.10" y1="130.80" x2="106.10" y2="130.80" stroke="#222" stroke-width="0.8"/>
<line x1="104.70" y1="143.77" x2="106.10" y2="143.77" stroke="#444" stroke-width="0.5"/>
<line x1="104.70" y1="140.50" x2="106.10" y2="140.50" stroke="#444" stroke-width="0.5"/>
<line x1="104.70" y1="138.18" x2="106.10" y2="138.18" stroke="#444" stroke-width="0.5"/>
<line x1="104.70" y1="136.38" x2="106.10" y2="136.38" stroke="#444" stroke-width="0.5"/>
<line x1="104.70" y1="134.92" x2="106.10" y2="134.92" stroke="#444" stroke-width="0.5"/>
<line x1="104.70" y1="133.67" x2="106.10" y2="133.67" stroke="#444" stroke-width="0.5"/>
<line x1="104.70" y1="132.60" x2="106.10" y2="132.60" stroke="#444" stroke-width="0.5"/>
<line x1="104.70" y1="131.65" x2="106.10" y2="131.65" stroke="#444" stroke-width="0.5"/>
<line x1="104.10" y1="149.35" x2="106.10" y2="149.35" stroke="#222" stroke-width="0.8"/>
<line x1="104.70" y1="162.32" x2="106.10" y2="162.32" stroke="#444" stroke-width="0.5"/>
<line x1="104.70" y1="159.05" x2="106.10" y2="159.05" stroke="#444" stroke-width="0.5"/>
<line x1="104.70" y1="156.73" x2="106.10" y2="156.73" stroke="#444" stroke-width="0.5"/>
<line x1="104.70" y1="154.93" x2="106.10" y2="154.93" stroke="#444" stroke-width="0.5"/>
<line x1="104.70" y1="153.47" x2="106.10" y2="153.47" stroke="#444" stroke-width="0.5"/>
<line x1="104.70" y1="152.22" x2="106.10" y2="152.22" stroke="#444" stroke-width="0.5"/>
<line x1="104.70" y1="151.15" x2="106.10" y2="151.15" stroke="#444" stroke-width="0.5"/>
<line x1="104.70" y1="150.20" x2="106.10" y2="150.20" stroke="#444" stroke-width="0.5"/>
<line x1="104.10" y1="167.90" x2="106.10" y2="167.90" stroke="#222" stroke-width="0.8"/>
<line x1="104.70" y1="180.87" x2="106.10" y2="180.87" stroke="#444" stroke-width="0.5"/>
<line x1="104.70" y1="177.60" x2="106.10" y2="177.60" stroke="#444" stroke-width="0.5"/>
<line x1="104.70" y1="175.28" x2="106.10" y2="175.28" stroke="#444" stroke-width="0.5"/>
<line x1="104.70" y1="173.48" x2="106.10" y2="173.48" stroke="#444" stroke-width="0.5"/>
<line x1="104.70" y1="172.02" x2="106.10" y2="172.02" stroke="#444" stroke-width="0.5"/>
<line x1="104.70" y1="170.77" x2="106.10" y2="170.77" stroke="#444" stroke-width="0.5"/>
<line x1="104.70" y1="169.70" x2="106.10" y2="169.70" stroke="#444" stroke-width="0.5"/>
<line x1="104.70" y1="168.75" x2="106.10" y2="168.75" stroke="#444" stroke-width="0.5"/>
<line x1="104.10" y1="186.45" x2="106.10" y2="186.45" stroke="#222" stroke-width="0.8"/>
<line x1="104.70" y1="199.42" x2="106.10" y2="199.42" stroke="#444" stroke-width="0.5"/>
<line x1="104.70" y1="196.15" x2="106.10" y2="196.15" stroke="#444" stroke-width="0.5"/>
<line x1="104.70" y1="193.83" x2="106.10" y2="193.83" stroke="#444" stroke-width="0.5"/>
<line x1="104.70" y1="192.03" x2="106.10" y2="192.03" stroke="#444" stroke-width="0.5"/>
<line x1="104.70" y1="190.57" x2="106.10" y2="190.57" stroke="#444" stroke-width="0.5"/>
<line x1="104.70" y1="189.32" x2="106.10" y2="189.32" stroke="#444" stroke-width="0.5"/>
<line x1="104.70" y1="188.25" x2="106.10" y2="188.25" stroke="#444" stroke-width="0.5"/>
<line x1="104.70" y1="187.30" x2="106.10" y2="187.30" stroke="#444" stroke-width="0.5"/>
<line x1="104.10" y1="205.00" x2="106.10" y2="205.00" stroke="#222" stroke-width="0.8"/>
<line x1="104.70" y1="217.97" x2="106.10" y2="217.97" stroke="#444" stroke-width="0.5"/>
<line x1="104.70" y1="214.70" x2="106.10" y2="214.70" stroke="#444" stroke-width="0.5"/>
<line x1="104.70" y1="212.38" x2="106.10" y2="212.38" stroke="#444" stroke-width="0.5"/>
<line x1="104.70" y1="210.58" x2="106.10" y2="210.58" stroke="#444" stroke-width="0.5"/>
<line x1="104.70" y1="209.12" x2="106.10" y2="209.12" stroke="#444" stroke-width="0.5"/>
<line x1="104.70" y1="207.87" x2="106.10" y2="207.87" stroke="#444" stroke-width="0.5"/>
<line x1="104.70" y1="206.80" x2="106.10" y2="206.80" stroke="#444" stroke-width="0.5"/>
<line x1="104.70" y1="205.85" x2="106.10" y2="205.85" stroke="#444" stroke-width="0.5"/>
<line x1="104.10" y1="223.55" x2="106.10" y2="223.55" stroke="#222" stroke-width="0.8"/>
<text x="104.00" y="132.65" font-size="5.3" font-weight="bold" text-anchor="end">100</text>
<text x="104.00" y="151.20" font-size="5.3" font-weight="bold" text-anchor="end">10</text>
<text x="104.00" y="169.75" font-size="5.3" font-weight="bold" text-anchor="end">1</text>
<text x="104.00" y="188.30" font-size="5.3" font-weight="bold" text-anchor="end">0.1</text>
<text x="104.00" y="206.85" font-size="5.3" font-weight="bold" text-anchor="end">0.01</text>
<text x="104.00" y="225.40" font-size="5.3" font-weight="bold" text-anchor="end">1E-3</text>
<line x1="106.10" y1="223.55" x2="106.10" y2="225.55" stroke="#222" stroke-width="0.8"/>
<text x="106.10" y="230.85" font-size="5" font-weight="bold" text-anchor="middle">0</text>
<line x1="113.47" y1="223.55" x2="113.47" y2="224.75" stroke="#222" stroke-width="0.8"/>
<line x1="120.84" y1="223.55" x2="120.84" y2="225.55" stroke="#222" stroke-width="0.8"/>
<text x="120.84" y="230.85" font-size="5" font-weight="bold" text-anchor="middle">2</text>
<line x1="128.21" y1="223.55" x2="128.21" y2="224.75" stroke="#222" stroke-width="0.8"/>
<line x1="135.58" y1="223.55" x2="135.58" y2="225.55" stroke="#222" stroke-width="0.8"/>
<text x="135.58" y="230.85" font-size="5" font-weight="bold" text-anchor="middle">4</text>
<line x1="142.95" y1="223.55" x2="142.95" y2="224.75" stroke="#222" stroke-width="0.8"/>
<line x1="150.32" y1="223.55" x2="150.32" y2="225.55" stroke="#222" stroke-width="0.8"/>
<text x="150.32" y="230.85" font-size="5" font-weight="bold" text-anchor="middle">6</text>
<line x1="157.69" y1="223.55" x2="157.69" y2="224.75" stroke="#222" stroke-width="0.8"/>
<line x1="165.06" y1="223.55" x2="165.06" y2="225.55" stroke="#222" stroke-width="0.8"/>
<text x="165.06" y="230.85" font-size="5" font-weight="bold" text-anchor="middle">8</text>
<text x="136.00" y="131.40" font-size="6.5" font-weight="bold" text-anchor="middle">UPCISCC 131</text>
<circle cx="106.10" cy="130.60" r="1.5" fill="#000"/>
<circle cx="113.47" cy="134.30" r="1.5" fill="#000"/>
<circle cx="113.47" cy="136.30" r="1.5" fill="#000"/>
<circle cx="120.84" cy="139.30" r="1.5" fill="#000"/>
<circle cx="120.84" cy="144.30" r="1.5" fill="#000"/>
<circle cx="120.84" cy="145.50" r="1.5" fill="#000"/>
<circle cx="135.58" cy="149.50" r="1.5" fill="#000"/>
<circle cx="135.58" cy="153.00" r="1.5" fill="#000"/>
<circle cx="135.58" cy="159.50" r="1.5" fill="#000"/>
<circle cx="150.32" cy="167.20" r="1.5" fill="#000"/>
<circle cx="150.32" cy="181.30" r="1.5" fill="#000"/>
<circle cx="165.06" cy="185.00" r="1.5" fill="#000"/>
<circle cx="165.06" cy="188.80" r="1.5" fill="#000"/>
<circle cx="165.06" cy="197.50" r="1.5" fill="#000"/>
<polyline points="185.20,130.80 188.88,132.68 192.57,134.89 196.25,137.42 199.94,140.28 203.62,143.47 207.31,146.99 211.00,150.83 214.68,155.00 218.36,159.50 222.05,164.33 225.73,169.48 229.42,174.96 233.10,180.77 236.79,186.91 240.47,193.37 244.16,200.16 247.84,207.28" stroke="#b8b8b8" stroke-width="0.5" fill="none" stroke-dasharray="1 0.6"/>
<line x1="185.20" y1="130.30" x2="185.20" y2="223.55" stroke="#222" stroke-width="1"/>
<line x1="185.20" y1="223.55" x2="244.66" y2="223.55" stroke="#222" stroke-width="1"/>
<line x1="183.20" y1="130.80" x2="185.20" y2="130.80" stroke="#222" stroke-width="0.8"/>
<line x1="183.80" y1="143.77" x2="185.20" y2="143.77" stroke="#444" stroke-width="0.5"/>
<line x1="183.80" y1="140.50" x2="185.20" y2="140.50" stroke="#444" stroke-width="0.5"/>
<line x1="183.80" y1="138.18" x2="185.20" y2="138.18" stroke="#444" stroke-width="0.5"/>
<line x1="183.80" y1="136.38" x2="185.20" y2="136.38" stroke="#444" stroke-width="0.5"/>
<line x1="183.80" y1="134.92" x2="185.20" y2="134.92" stroke="#444" stroke-width="0.5"/>
<line x1="183.80" y1="133.67" x2="185.20" y2="133.67" stroke="#444" stroke-width="0.5"/>
<line x1="183.80" y1="132.60" x2="185.20" y2="132.60" stroke="#444" stroke-width="0.5"/>
<line x1="183.80" y1="131.65" x2="185.20" y2="131.65" stroke="#444" stroke-width="0.5"/>
<line x1="183.20" y1="149.35" x2="185.20" y2="149.35" stroke="#222" stroke-width="0.8"/>
<line x1="183.80" y1="162.32" x2="185.20" y2="162.32" stroke="#444" stroke-width="0.5"/>
<line x1="183.80" y1="159.05" x2="185.20" y2="159.05" stroke="#444" stroke-width="0.5"/>
<line x1="183.80" y1="156.73" x2="185.20" y2="156.73" stroke="#444" stroke-width="0.5"/>
<line x1="183.80" y1="154.93" x2="185.20" y2="154.93" stroke="#444" stroke-width="0.5"/>
<line x1="183.80" y1="153.47" x2="185.20" y2="153.47" stroke="#444" stroke-width="0.5"/>
<line x1="183.80" y1="152.22" x2="185.20" y2="152.22" stroke="#444" stroke-width="0.5"/>
<line x1="183.80" y1="151.15" x2="185.20" y2="151.15" stroke="#444" stroke-width="0.5"/>
<line x1="183.80" y1="150.20" x2="185.20" y2="150.20" stroke="#444" stroke-width="0.5"/>
<line x1="183.20" y1="167.90" x2="185.20" y2="167.90" stroke="#222" stroke-width="0.8"/>
<line x1="183.80" y1="180.87" x2="185.20" y2="180.87" stroke="#444" stroke-width="0.5"/>
<line x1="183.80" y1="177.60" x2="185.20" y2="177.60" stroke="#444" stroke-width="0.5"/>
<line x1="183.80" y1="175.28" x2="185.20" y2="175.28" stroke="#444" stroke-width="0.5"/>
<line x1="183.80" y1="173.48" x2="185.20" y2="173.48" stroke="#444" stroke-width="0.5"/>
<line x1="183.80" y1="172.02" x2="185.20" y2="172.02" stroke="#444" stroke-width="0.5"/>
<line x1="183.80" y1="170.77" x2="185.20" y2="170.77" stroke="#444" stroke-width="0.5"/>
<line x1="183.80" y1="169.70" x2="185.20" y2="169.70" stroke="#444" stroke-width="0.5"/>
<line x1="183.80" y1="168.75" x2="185.20" y2="168.75" stroke="#444" stroke-width="0.5"/>
<line x1="183.20" y1="186.45" x2="185.20" y2="186.45" stroke="#222" stroke-width="0.8"/>
<line x1="183.80" y1="199.42" x2="185.20" y2="199.42" stroke="#444" stroke-width="0.5"/>
<line x1="183.80" y1="196.15" x2="185.20" y2="196.15" stroke="#444" stroke-width="0.5"/>
<line x1="183.80" y1="193.83" x2="185.20" y2="193.83" stroke="#444" stroke-width="0.5"/>
<line x1="183.80" y1="192.03" x2="185.20" y2="192.03" stroke="#444" stroke-width="0.5"/>
<line x1="183.80" y1="190.57" x2="185.20" y2="190.57" stroke="#444" stroke-width="0.5"/>
<line x1="183.80" y1="189.32" x2="185.20" y2="189.32" stroke="#444" stroke-width="0.5"/>
<line x1="183.80" y1="188.25" x2="185.20" y2="188.25" stroke="#444" stroke-width="0.5"/>
<line x1="183.80" y1="187.30" x2="185.20" y2="187.30" stroke="#444" stroke-width="0.5"/>
<line x1="183.20" y1="205.00" x2="185.20" y2="205.00" stroke="#222" stroke-width="0.8"/>
<line x1="183.80" y1="217.97" x2="185.20" y2="217.97" stroke="#444" stroke-width="0.5"/>
<line x1="183.80" y1="214.70" x2="185.20" y2="214.70" stroke="#444" stroke-width="0.5"/>
<line x1="183.80" y1="212.38" x2="185.20" y2="212.38" stroke="#444" stroke-width="0.5"/>
<line x1="183.80" y1="210.58" x2="185.20" y2="210.58" stroke="#444" stroke-width="0.5"/>
<line x1="183.80" y1="209.12" x2="185.20" y2="209.12" stroke="#444" stroke-width="0.5"/>
<line x1="183.80" y1="207.87" x2="185.20" y2="207.87" stroke="#444" stroke-width="0.5"/>
<line x1="183.80" y1="206.80" x2="185.20" y2="206.80" stroke="#444" stroke-width="0.5"/>
<line x1="183.80" y1="205.85" x2="185.20" y2="205.85" stroke="#444" stroke-width="0.5"/>
<line x1="183.20" y1="223.55" x2="185.20" y2="223.55" stroke="#222" stroke-width="0.8"/>
<text x="183.10" y="132.65" font-size="5.3" font-weight="bold" text-anchor="end">100</text>
<text x="183.10" y="151.20" font-size="5.3" font-weight="bold" text-anchor="end">10</text>
<text x="183.10" y="169.75" font-size="5.3" font-weight="bold" text-anchor="end">1</text>
<text x="183.10" y="188.30" font-size="5.3" font-weight="bold" text-anchor="end">0.1</text>
<text x="183.10" y="206.85" font-size="5.3" font-weight="bold" text-anchor="end">0.01</text>
<text x="183.10" y="225.40" font-size="5.3" font-weight="bold" text-anchor="end">1E-3</text>
<line x1="185.20" y1="223.55" x2="185.20" y2="225.55" stroke="#222" stroke-width="0.8"/>
<text x="185.20" y="230.85" font-size="5" font-weight="bold" text-anchor="middle">0</text>
<line x1="192.57" y1="223.55" x2="192.57" y2="224.75" stroke="#222" stroke-width="0.8"/>
<line x1="199.94" y1="223.55" x2="199.94" y2="225.55" stroke="#222" stroke-width="0.8"/>
<text x="199.94" y="230.85" font-size="5" font-weight="bold" text-anchor="middle">2</text>
<line x1="207.31" y1="223.55" x2="207.31" y2="224.75" stroke="#222" stroke-width="0.8"/>
<line x1="214.68" y1="223.55" x2="214.68" y2="225.55" stroke="#222" stroke-width="0.8"/>
<text x="214.68" y="230.85" font-size="5" font-weight="bold" text-anchor="middle">4</text>
<line x1="222.05" y1="223.55" x2="222.05" y2="224.75" stroke="#222" stroke-width="0.8"/>
<line x1="229.42" y1="223.55" x2="229.42" y2="225.55" stroke="#222" stroke-width="0.8"/>
<text x="229.42" y="230.85" font-size="5" font-weight="bold" text-anchor="middle">6</text>
<line x1="236.79" y1="223.55" x2="236.79" y2="224.75" stroke="#222" stroke-width="0.8"/>
<line x1="244.16" y1="223.55" x2="244.16" y2="225.55" stroke="#222" stroke-width="0.8"/>
<text x="244.16" y="230.85" font-size="5" font-weight="bold" text-anchor="middle">8</text>
<text x="215.00" y="131.40" font-size="6.5" font-weight="bold" text-anchor="middle">UPCISCC 154</text>
<circle cx="185.20" cy="130.60" r="1.5" fill="#000"/>
<circle cx="192.57" cy="134.30" r="1.5" fill="#000"/>
<circle cx="192.57" cy="136.80" r="1.5" fill="#000"/>
<circle cx="199.94" cy="139.80" r="1.5" fill="#000"/>
<circle cx="199.94" cy="142.50" r="1.5" fill="#000"/>
<circle cx="214.68" cy="153.70" r="1.5" fill="#000"/>
<circle cx="214.68" cy="156.20" r="1.5" fill="#000"/>
<circle cx="214.68" cy="163.80" r="1.5" fill="#000"/>
<circle cx="229.42" cy="177.10" r="1.5" fill="#000"/>
<circle cx="229.42" cy="193.70" r="1.5" fill="#000"/>
<circle cx="244.16" cy="190.00" r="1.5" fill="#000"/>
<circle cx="244.16" cy="198.20" r="1.5" fill="#000"/>
<circle cx="244.16" cy="213.10" r="1.5" fill="#000"/>
<polyline points="264.20,130.80 329.06,171.80" stroke="#b8b8b8" stroke-width="0.5" fill="none" stroke-dasharray="1 0.6"/>
<line x1="264.20" y1="130.30" x2="264.20" y2="223.55" stroke="#222" stroke-width="1"/>
<line x1="264.20" y1="223.55" x2="323.66" y2="223.55" stroke="#222" stroke-width="1"/>
<line x1="262.20" y1="130.80" x2="264.20" y2="130.80" stroke="#222" stroke-width="0.8"/>
<line x1="262.80" y1="143.77" x2="264.20" y2="143.77" stroke="#444" stroke-width="0.5"/>
<line x1="262.80" y1="140.50" x2="264.20" y2="140.50" stroke="#444" stroke-width="0.5"/>
<line x1="262.80" y1="138.18" x2="264.20" y2="138.18" stroke="#444" stroke-width="0.5"/>
<line x1="262.80" y1="136.38" x2="264.20" y2="136.38" stroke="#444" stroke-width="0.5"/>
<line x1="262.80" y1="134.92" x2="264.20" y2="134.92" stroke="#444" stroke-width="0.5"/>
<line x1="262.80" y1="133.67" x2="264.20" y2="133.67" stroke="#444" stroke-width="0.5"/>
<line x1="262.80" y1="132.60" x2="264.20" y2="132.60" stroke="#444" stroke-width="0.5"/>
<line x1="262.80" y1="131.65" x2="264.20" y2="131.65" stroke="#444" stroke-width="0.5"/>
<line x1="262.20" y1="149.35" x2="264.20" y2="149.35" stroke="#222" stroke-width="0.8"/>
<line x1="262.80" y1="162.32" x2="264.20" y2="162.32" stroke="#444" stroke-width="0.5"/>
<line x1="262.80" y1="159.05" x2="264.20" y2="159.05" stroke="#444" stroke-width="0.5"/>
<line x1="262.80" y1="156.73" x2="264.20" y2="156.73" stroke="#444" stroke-width="0.5"/>
<line x1="262.80" y1="154.93" x2="264.20" y2="154.93" stroke="#444" stroke-width="0.5"/>
<line x1="262.80" y1="153.47" x2="264.20" y2="153.47" stroke="#444" stroke-width="0.5"/>
<line x1="262.80" y1="152.22" x2="264.20" y2="152.22" stroke="#444" stroke-width="0.5"/>
<line x1="262.80" y1="151.15" x2="264.20" y2="151.15" stroke="#444" stroke-width="0.5"/>
<line x1="262.80" y1="150.20" x2="264.20" y2="150.20" stroke="#444" stroke-width="0.5"/>
<line x1="262.20" y1="167.90" x2="264.20" y2="167.90" stroke="#222" stroke-width="0.8"/>
<line x1="262.80" y1="180.87" x2="264.20" y2="180.87" stroke="#444" stroke-width="0.5"/>
<line x1="262.80" y1="177.60" x2="264.20" y2="177.60" stroke="#444" stroke-width="0.5"/>
<line x1="262.80" y1="175.28" x2="264.20" y2="175.28" stroke="#444" stroke-width="0.5"/>
<line x1="262.80" y1="173.48" x2="264.20" y2="173.48" stroke="#444" stroke-width="0.5"/>
<line x1="262.80" y1="172.02" x2="264.20" y2="172.02" stroke="#444" stroke-width="0.5"/>
<line x1="262.80" y1="170.77" x2="264.20" y2="170.77" stroke="#444" stroke-width="0.5"/>
<line x1="262.80" y1="169.70" x2="264.20" y2="169.70" stroke="#444" stroke-width="0.5"/>
<line x1="262.80" y1="168.75" x2="264.20" y2="168.75" stroke="#444" stroke-width="0.5"/>
<line x1="262.20" y1="186.45" x2="264.20" y2="186.45" stroke="#222" stroke-width="0.8"/>
<line x1="262.80" y1="199.42" x2="264.20" y2="199.42" stroke="#444" stroke-width="0.5"/>
<line x1="262.80" y1="196.15" x2="264.20" y2="196.15" stroke="#444" stroke-width="0.5"/>
<line x1="262.80" y1="193.83" x2="264.20" y2="193.83" stroke="#444" stroke-width="0.5"/>
<line x1="262.80" y1="192.03" x2="264.20" y2="192.03" stroke="#444" stroke-width="0.5"/>
<line x1="262.80" y1="190.57" x2="264.20" y2="190.57" stroke="#444" stroke-width="0.5"/>
<line x1="262.80" y1="189.32" x2="264.20" y2="189.32" stroke="#444" stroke-width="0.5"/>
<line x1="262.80" y1="188.25" x2="264.20" y2="188.25" stroke="#444" stroke-width="0.5"/>
<line x1="262.80" y1="187.30" x2="264.20" y2="187.30" stroke="#444" stroke-width="0.5"/>
<line x1="262.20" y1="205.00" x2="264.20" y2="205.00" stroke="#222" stroke-width="0.8"/>
<line x1="262.80" y1="217.97" x2="264.20" y2="217.97" stroke="#444" stroke-width="0.5"/>
<line x1="262.80" y1="214.70" x2="264.20" y2="214.70" stroke="#444" stroke-width="0.5"/>
<line x1="262.80" y1="212.38" x2="264.20" y2="212.38" stroke="#444" stroke-width="0.5"/>
<line x1="262.80" y1="210.58" x2="264.20" y2="210.58" stroke="#444" stroke-width="0.5"/>
<line x1="262.80" y1="209.12" x2="264.20" y2="209.12" stroke="#444" stroke-width="0.5"/>
<line x1="262.80" y1="207.87" x2="264.20" y2="207.87" stroke="#444" stroke-width="0.5"/>
<line x1="262.80" y1="206.80" x2="264.20" y2="206.80" stroke="#444" stroke-width="0.5"/>
<line x1="262.80" y1="205.85" x2="264.20" y2="205.85" stroke="#444" stroke-width="0.5"/>
<line x1="262.20" y1="223.55" x2="264.20" y2="223.55" stroke="#222" stroke-width="0.8"/>
<text x="262.10" y="132.65" font-size="5.3" font-weight="bold" text-anchor="end">100</text>
<text x="262.10" y="151.20" font-size="5.3" font-weight="bold" text-anchor="end">10</text>
<text x="262.10" y="169.75" font-size="5.3" font-weight="bold" text-anchor="end">1</text>
<text x="262.10" y="188.30" font-size="5.3" font-weight="bold" text-anchor="end">0.1</text>
<text x="262.10" y="206.85" font-size="5.3" font-weight="bold" text-anchor="end">0.01</text>
<text x="262.10" y="225.40" font-size="5.3" font-weight="bold" text-anchor="end">1E-3</text>
<line x1="264.20" y1="223.55" x2="264.20" y2="225.55" stroke="#222" stroke-width="0.8"/>
<text x="264.20" y="230.85" font-size="5" font-weight="bold" text-anchor="middle">0</text>
<line x1="271.57" y1="223.55" x2="271.57" y2="224.75" stroke="#222" stroke-width="0.8"/>
<line x1="278.94" y1="223.55" x2="278.94" y2="225.55" stroke="#222" stroke-width="0.8"/>
<text x="278.94" y="230.85" font-size="5" font-weight="bold" text-anchor="middle">2</text>
<line x1="286.31" y1="223.55" x2="286.31" y2="224.75" stroke="#222" stroke-width="0.8"/>
<line x1="293.68" y1="223.55" x2="293.68" y2="225.55" stroke="#222" stroke-width="0.8"/>
<text x="293.68" y="230.85" font-size="5" font-weight="bold" text-anchor="middle">4</text>
<line x1="301.05" y1="223.55" x2="301.05" y2="224.75" stroke="#222" stroke-width="0.8"/>
<line x1="308.42" y1="223.55" x2="308.42" y2="225.55" stroke="#222" stroke-width="0.8"/>
<text x="308.42" y="230.85" font-size="5" font-weight="bold" text-anchor="middle">6</text>
<line x1="315.79" y1="223.55" x2="315.79" y2="224.75" stroke="#222" stroke-width="0.8"/>
<line x1="323.16" y1="223.55" x2="323.16" y2="225.55" stroke="#222" stroke-width="0.8"/>
<text x="323.16" y="230.85" font-size="5" font-weight="bold" text-anchor="middle">8</text>
<text x="294.90" y="131.40" font-size="6.5" font-weight="bold" text-anchor="middle">OKF 6</text>
<circle cx="264.20" cy="130.60" r="1.5" fill="#000"/>
<circle cx="271.57" cy="133.10" r="1.5" fill="#000"/>
<circle cx="271.57" cy="135.10" r="1.5" fill="#000"/>
<circle cx="271.57" cy="137.10" r="1.5" fill="#000"/>
<circle cx="278.94" cy="135.60" r="1.5" fill="#000"/>
<circle cx="278.94" cy="138.10" r="1.5" fill="#000"/>
<circle cx="278.94" cy="140.60" r="1.5" fill="#000"/>
<circle cx="293.68" cy="143.00" r="1.5" fill="#000"/>
<circle cx="293.68" cy="147.00" r="1.5" fill="#000"/>
<circle cx="293.68" cy="150.50" r="1.5" fill="#000"/>
<circle cx="308.42" cy="150.50" r="1.5" fill="#000"/>
<circle cx="308.42" cy="156.00" r="1.5" fill="#000"/>
<circle cx="308.42" cy="159.20" r="1.5" fill="#000"/>
<circle cx="323.16" cy="161.70" r="1.5" fill="#000"/>
<circle cx="323.16" cy="167.90" r="1.5" fill="#000"/>
<circle cx="323.16" cy="173.60" r="1.5" fill="#000"/>
<line x1="10.00" y1="234.30" x2="43.00" y2="234.30" stroke="#000" stroke-width="0.8"/>
<line x1="10.00" y1="234.30" x2="10.00" y2="202.00" stroke="#000" stroke-width="0.8"/>
<polygon points="10.00,198.50 8.40,203.00 11.60,203.00" fill="#000"/>
<polygon points="46.00,234.30 41.50,232.70 41.50,235.90" fill="#000"/>
<text x="5.90" y="235.40" font-size="7.05" font-weight="bold" transform="rotate(-90 5.90 235.40)">Survival [%]</text>
<text x="10.60" y="241.40" font-size="6.8" font-weight="bold">Dose [Gy]</text>
<!--PANEL_B-->
<!--PANEL_C-->
<!--PANEL_D-->
<!--PANEL_E-->
<!--PANEL_F-->
<!--PANEL_G-->
<rect x="372.30" y="12.70" width="117.30" height="7.10" fill="url(#cbar)" stroke="#333" stroke-width="0.5"/>
<text x="371.80" y="28.10" font-size="5.8" text-anchor="middle">-3.00</text>
<text x="430.60" y="28.10" font-size="5.8" text-anchor="middle">0.00</text>
<text x="489.20" y="28.10" font-size="5.8" text-anchor="middle">3.00</text>
<text x="499.50" y="28.10" font-size="5.85">Scaled surviving fraction</text>
<rect x="411.70" y="57.90" width="7.34" height="7.30" fill="rgb(255,140,140)"/>
<rect x="419.84" y="57.90" width="7.34" height="7.30" fill="rgb(255,95,95)"/>
<rect x="427.98" y="57.90" width="7.34" height="7.30" fill="rgb(255,90,90)"/>
<rect x="436.12" y="57.90" width="7.34" height="7.30" fill="rgb(255,140,140)"/>
<rect x="444.26" y="57.90" width="7.34" height="7.30" fill="rgb(255,120,120)"/>
<rect x="411.70" y="66.00" width="7.34" height="7.30" fill="rgb(255,175,175)"/>
<rect x="419.84" y="66.00" width="7.34" height="7.30" fill="rgb(255,182,182)"/>
<rect x="427.98" y="66.00" width="7.34" height="7.30" fill="rgb(255,208,208)"/>
<rect x="436.12" y="66.00" width="7.34" height="7.30" fill="rgb(255,108,108)"/>
<rect x="444.26" y="66.00" width="7.34" height="7.30" fill="rgb(255,118,118)"/>
<rect x="411.70" y="74.10" width="7.34" height="7.30" fill="rgb(255,225,225)"/>
<rect x="419.84" y="74.10" width="7.34" height="7.30" fill="rgb(250,250,255)"/>
<rect x="427.98" y="74.10" width="7.34" height="7.30" fill="rgb(255,205,205)"/>
<rect x="436.12" y="74.10" width="7.34" height="7.30" fill="rgb(244,244,255)"/>
<rect x="444.26" y="74.10" width="7.34" height="7.30" fill="rgb(240,240,255)"/>
<rect x="411.70" y="82.20" width="7.34" height="7.30" fill="rgb(255,238,238)"/>
<rect x="419.84" y="82.20" width="7.34" height="7.30" fill="rgb(195,195,255)"/>
<rect x="427.98" y="82.20" width="7.34" height="7.30" fill="rgb(205,205,255)"/>
<rect x="436.12" y="82.20" width="7.34" height="7.30" fill="rgb(205,205,255)"/>
<rect x="444.26" y="82.20" width="7.34" height="7.30" fill="rgb(200,200,255)"/>
<rect x="411.70" y="90.30" width="7.34" height="7.30" fill="rgb(205,205,255)"/>
<rect x="419.84" y="90.30" width="7.34" height="7.30" fill="rgb(225,225,255)"/>
<rect x="427.98" y="90.30" width="7.34" height="7.30" fill="rgb(205,205,255)"/>
<rect x="436.12" y="90.30" width="7.34" height="7.30" fill="rgb(200,200,255)"/>
<rect x="444.26" y="90.30" width="7.34" height="7.30" fill="rgb(200,200,255)"/>
<rect x="411.70" y="98.40" width="7.34" height="7.30" fill="rgb(225,225,255)"/>
<rect x="419.84" y="98.40" width="7.34" height="7.30" fill="rgb(235,235,255)"/>
<rect x="427.98" y="98.40" width="7.34" height="7.30" fill="rgb(180,180,255)"/>
<rect x="436.12" y="98.40" width="7.34" height="7.30" fill="rgb(190,190,255)"/>
<rect x="444.26" y="98.40" width="7.34" height="7.30" fill="rgb(200,200,255)"/>
<rect x="411.70" y="106.50" width="7.34" height="7.30" fill="rgb(95,95,245)"/>
<rect x="419.84" y="106.50" width="7.34" height="7.30" fill="rgb(140,140,250)"/>
<rect x="427.98" y="106.50" width="7.34" height="7.30" fill="rgb(185,185,255)"/>
<rect x="436.12" y="106.50" width="7.34" height="7.30" fill="rgb(200,200,255)"/>
<rect x="444.26" y="106.50" width="7.34" height="7.30" fill="rgb(200,200,255)"/>
<text x="416.97" y="55.30" font-size="5.2" transform="rotate(-90 416.97 55.30)">SF1</text>
<text x="425.11" y="55.30" font-size="5.2" transform="rotate(-90 425.11 55.30)">SF2</text>
<text x="433.25" y="55.30" font-size="5.2" transform="rotate(-90 433.25 55.30)">SF4</text>
<text x="441.39" y="55.30" font-size="5.2" transform="rotate(-90 441.39 55.30)">SF6</text>
<text x="449.53" y="55.30" font-size="5.2" transform="rotate(-90 449.53 55.30)">SF8</text>
<text x="456.50" y="63.30" font-size="7.25">UPCISCC 040</text>
<text x="456.50" y="71.40" font-size="7.25">Cal 33</text>
<text x="456.50" y="79.50" font-size="7.25">Cal 27</text>
<text x="456.50" y="87.60" font-size="7.25">UPCISCC 131</text>
<text x="456.50" y="95.70" font-size="7.25">UPCISCC 099</text>
<text x="456.50" y="103.80" font-size="7.25">UPCISCC 154</text>
<text x="456.50" y="111.90" font-size="7.25">UDSCC 2</text>
<line x1="382.30" y1="61.40" x2="408.00" y2="61.40" stroke="#3a3a3a" stroke-width="0.8" stroke-linecap="square"/>
<line x1="382.30" y1="69.60" x2="408.00" y2="69.60" stroke="#3a3a3a" stroke-width="0.8" stroke-linecap="square"/>
<line x1="382.30" y1="61.40" x2="382.30" y2="69.60" stroke="#3a3a3a" stroke-width="0.8" stroke-linecap="square"/>
<line x1="401.60" y1="94.40" x2="408.00" y2="94.40" stroke="#3a3a3a" stroke-width="0.8" stroke-linecap="square"/>
<line x1="401.60" y1="102.30" x2="408.00" y2="102.30" stroke="#3a3a3a" stroke-width="0.8" stroke-linecap="square"/>
<line x1="401.60" y1="94.40" x2="401.60" y2="102.30" stroke="#3a3a3a" stroke-width="0.8" stroke-linecap="square"/>
<line x1="396.40" y1="85.90" x2="408.00" y2="85.90" stroke="#3a3a3a" stroke-width="0.8" stroke-linecap="square"/>
<line x1="396.40" y1="98.40" x2="401.60" y2="98.40" stroke="#3a3a3a" stroke-width="0.8" stroke-linecap="square"/>
<line x1="396.40" y1="85.90" x2="396.40" y2="98.40" stroke="#3a3a3a" stroke-width="0.8" stroke-linecap="square"/>
<line x1="384.40" y1="77.50" x2="408.00" y2="77.50" stroke="#3a3a3a" stroke-width="0.8" stroke-linecap="square"/>
<line x1="384.40" y1="94.40" x2="396.40" y2="94.40" stroke="#3a3a3a" stroke-width="0.8" stroke-linecap="square"/>
<line x1="384.40" y1="77.50" x2="384.40" y2="94.40" stroke="#3a3a3a" stroke-width="0.8" stroke-linecap="square"/>
<line x1="378.30" y1="110.30" x2="408.00" y2="110.30" stroke="#3a3a3a" stroke-width="0.8" stroke-linecap="square"/>
<line x1="378.30" y1="90.10" x2="384.40" y2="90.10" stroke="#3a3a3a" stroke-width="0.8" stroke-linecap="square"/>
<line x1="378.30" y1="90.10" x2="378.30" y2="110.30" stroke="#3a3a3a" stroke-width="0.8" stroke-linecap="square"/>
<line x1="349.10" y1="65.40" x2="382.30" y2="65.40" stroke="#3a3a3a" stroke-width="0.8" stroke-linecap="square"/>
<line x1="349.10" y1="94.10" x2="378.30" y2="94.10" stroke="#3a3a3a" stroke-width="0.8" stroke-linecap="square"/>
<line x1="349.10" y1="65.40" x2="349.10" y2="94.10" stroke="#3a3a3a" stroke-width="0.8" stroke-linecap="square"/>
<text x="527.00" y="44.60" font-size="7.25" text-anchor="middle">2-way-ANOVA</text>
<text x="527.00" y="52.90" font-size="7.25" text-anchor="middle">Bonf.-Holm</text>
<text x="564.10" y="44.30" font-size="7.25" text-anchor="middle">α/β</text>
<text x="564.10" y="52.60" font-size="7.25" text-anchor="middle">Value</text>
<text x="590.90" y="44.30" font-size="7.25" text-anchor="middle">Score of</text>
<text x="590.90" y="52.60" font-size="7.25" text-anchor="middle">1st PC</text>
<text x="514.70" y="63.30" font-size="7.25" text-anchor="middle">A</text>
<text x="569.30" y="63.00" font-size="5.5" text-anchor="end">6.6</text>
<text x="599.20" y="63.00" font-size="5.5" text-anchor="end">3.427</text>
<text x="514.70" y="71.40" font-size="7.25" text-anchor="middle">A</text>
<text x="523.00" y="71.40" font-size="7.25" text-anchor="middle">B</text>
<text x="530.80" y="71.40" font-size="7.25" text-anchor="middle">C</text>
<text x="569.30" y="71.10" font-size="5.5" text-anchor="end">&gt;20.0</text>
<text x="599.20" y="71.10" font-size="5.5" text-anchor="end">2.265</text>
<text x="523.00" y="79.50" font-size="7.25" text-anchor="middle">B</text>
<text x="530.80" y="79.50" font-size="7.25" text-anchor="middle">C</text>
<text x="569.30" y="79.20" font-size="5.5" text-anchor="end">14.7</text>
<text x="599.20" y="79.20" font-size="5.5" text-anchor="end">0.264</text>
<text x="530.80" y="87.60" font-size="7.25" text-anchor="middle">C</text>
<text x="538.80" y="87.60" font-size="7.25" text-anchor="middle">D</text>
<text x="569.30" y="87.30" font-size="5.5" text-anchor="end">12.5</text>
<text x="599.20" y="87.30" font-size="5.5" text-anchor="end">-1.030</text>
<text x="530.80" y="95.70" font-size="7.25" text-anchor="middle">C</text>
<text x="538.80" y="95.70" font-size="7.25" text-anchor="middle">D</text>
<text x="569.30" y="95.40" font-size="5.5" text-anchor="end">13.3</text>
<text x="599.20" y="95.40" font-size="5.5" text-anchor="end">-1.238</text>
<text x="530.80" y="103.80" font-size="7.25" text-anchor="middle">C</text>
<text x="538.80" y="103.80" font-size="7.25" text-anchor="middle">D</text>
<text x="569.30" y="103.50" font-size="5.5" text-anchor="end">13.7</text>
<text x="599.20" y="103.50" font-size="5.5" text-anchor="end">-1.343</text>
<text x="538.80" y="111.90" font-size="7.25" text-anchor="middle">D</text>
<text x="569.30" y="111.60" font-size="5.5" text-anchor="end">&gt;20.0</text>
<text x="599.20" y="111.60" font-size="5.5" text-anchor="end">-2.346</text>
<text x="618.00" y="46.20" font-size="8.6" font-weight="bold">Radio-</text>
<text x="618.00" y="55.90" font-size="8.6" font-weight="bold">Resistance</text>
<text x="618.00" y="68.10" font-size="8.6" font-weight="bold">more</text>
<text x="618.00" y="98.20" font-size="8.6" font-weight="bold">less</text>
<line x1="613.40" y1="57.40" x2="613.40" y2="113.60" stroke="#444" stroke-width="0.9"/>
<line x1="608.80" y1="57.40" x2="613.80" y2="57.40" stroke="#444" stroke-width="0.9"/>
<line x1="610.20" y1="73.10" x2="613.40" y2="73.10" stroke="#444" stroke-width="0.9"/>
<line x1="610.20" y1="113.40" x2="613.80" y2="113.40" stroke="#444" stroke-width="0.9"/>
<line x1="377.80" y1="134.10" x2="377.80" y2="223.40" stroke="#333" stroke-width="0.9"/>
<line x1="377.80" y1="223.40" x2="487.20" y2="223.40" stroke="#333" stroke-width="0.9"/>
<line x1="377.80" y1="134.10" x2="487.20" y2="134.10" stroke="#3a9a3a" stroke-width="0.9"/>
<line x1="487.20" y1="134.10" x2="487.20" y2="223.40" stroke="#3a9a3a" stroke-width="0.9"/>
<line x1="424.60" y1="134.10" x2="424.60" y2="223.40" stroke="#333" stroke-width="0.8"/>
<line x1="377.80" y1="172.20" x2="487.20" y2="172.20" stroke="#333" stroke-width="0.8"/>
<line x1="375.80" y1="146.20" x2="377.80" y2="146.20" stroke="#333" stroke-width="0.7"/>
<line x1="376.60" y1="159.20" x2="377.80" y2="159.20" stroke="#333" stroke-width="0.7"/>
<line x1="375.80" y1="172.20" x2="377.80" y2="172.20" stroke="#333" stroke-width="0.7"/>
<line x1="376.60" y1="185.20" x2="377.80" y2="185.20" stroke="#333" stroke-width="0.7"/>
<line x1="375.80" y1="198.20" x2="377.80" y2="198.20" stroke="#333" stroke-width="0.7"/>
<line x1="376.60" y1="211.20" x2="377.80" y2="211.20" stroke="#333" stroke-width="0.7"/>
<line x1="375.80" y1="224.20" x2="377.80" y2="224.20" stroke="#333" stroke-width="0.7"/>
<text x="375.50" y="148.50" font-size="5.3" font-weight="bold" text-anchor="end">0.5</text>
<text x="375.50" y="174.10" font-size="5.3" font-weight="bold" text-anchor="end">0.0</text>
<text x="375.50" y="199.70" font-size="5.3" font-weight="bold" text-anchor="end">-0.5</text>
<text x="375.50" y="225.30" font-size="5.3" font-weight="bold" text-anchor="end">-1.0</text>
<line x1="377.65" y1="223.40" x2="377.65" y2="224.60" stroke="#333" stroke-width="0.7"/>
<line x1="393.30" y1="223.40" x2="393.30" y2="225.40" stroke="#333" stroke-width="0.7"/>
<line x1="408.95" y1="223.40" x2="408.95" y2="224.60" stroke="#333" stroke-width="0.7"/>
<line x1="424.60" y1="223.40" x2="424.60" y2="225.40" stroke="#333" stroke-width="0.7"/>
<line x1="440.25" y1="223.40" x2="440.25" y2="224.60" stroke="#333" stroke-width="0.7"/>
<line x1="455.90" y1="223.40" x2="455.90" y2="225.40" stroke="#333" stroke-width="0.7"/>
<line x1="471.55" y1="223.40" x2="471.55" y2="224.60" stroke="#333" stroke-width="0.7"/>
<line x1="487.20" y1="223.40" x2="487.20" y2="225.40" stroke="#333" stroke-width="0.7"/>
<text x="393.30" y="231.00" font-size="5.3" font-weight="bold" text-anchor="middle">-2</text>
<text x="424.60" y="231.00" font-size="5.3" font-weight="bold" text-anchor="middle">0</text>
<text x="455.90" y="231.00" font-size="5.3" font-weight="bold" text-anchor="middle">2</text>
<text x="487.20" y="231.00" font-size="5.3" font-weight="bold" text-anchor="middle">4</text>
<line x1="385.10" y1="134.10" x2="385.10" y2="132.10" stroke="#3a9a3a" stroke-width="0.7"/>
<line x1="405.10" y1="134.10" x2="405.10" y2="132.90" stroke="#3a9a3a" stroke-width="0.7"/>
<line x1="425.10" y1="134.10" x2="425.10" y2="132.10" stroke="#3a9a3a" stroke-width="0.7"/>
<line x1="445.10" y1="134.10" x2="445.10" y2="132.90" stroke="#3a9a3a" stroke-width="0.7"/>
<line x1="465.10" y1="134.10" x2="465.10" y2="132.10" stroke="#3a9a3a" stroke-width="0.7"/>
<line x1="485.10" y1="134.10" x2="485.10" y2="132.90" stroke="#3a9a3a" stroke-width="0.7"/>
<text x="385.10" y="131.20" font-size="5.3" font-weight="bold" text-anchor="middle" fill="#3a9a3a">-0.5</text>
<text x="425.10" y="131.20" font-size="5.3" font-weight="bold" text-anchor="middle" fill="#3a9a3a">0.0</text>
<text x="465.10" y="131.20" font-size="5.3" font-weight="bold" text-anchor="middle" fill="#3a9a3a">0.5</text>
<line x1="487.20" y1="139.80" x2="488.40" y2="139.80" stroke="#3a9a3a" stroke-width="0.7"/>
<line x1="487.20" y1="150.60" x2="489.20" y2="150.60" stroke="#3a9a3a" stroke-width="0.7"/>
<line x1="487.20" y1="161.40" x2="488.40" y2="161.40" stroke="#3a9a3a" stroke-width="0.7"/>
<line x1="487.20" y1="172.20" x2="489.20" y2="172.20" stroke="#3a9a3a" stroke-width="0.7"/>
<line x1="487.20" y1="183.00" x2="488.40" y2="183.00" stroke="#3a9a3a" stroke-width="0.7"/>
<line x1="487.20" y1="193.80" x2="489.20" y2="193.80" stroke="#3a9a3a" stroke-width="0.7"/>
<line x1="487.20" y1="204.60" x2="488.40" y2="204.60" stroke="#3a9a3a" stroke-width="0.7"/>
<line x1="487.20" y1="215.40" x2="489.20" y2="215.40" stroke="#3a9a3a" stroke-width="0.7"/>
<text x="489.40" y="152.50" font-size="5.3" font-weight="bold" fill="#3a9a3a">0.5</text>
<text x="489.40" y="174.10" font-size="5.3" font-weight="bold" fill="#3a9a3a">0.0</text>
<text x="489.40" y="195.70" font-size="5.3" font-weight="bold" fill="#3a9a3a">-0.5</text>
<text x="489.40" y="217.30" font-size="5.3" font-weight="bold" fill="#3a9a3a">-1.0</text>
<line x1="424.60" y1="172.20" x2="459.80" y2="144.50" stroke="#289628" stroke-width="0.6"/>
<line x1="424.60" y1="172.20" x2="462.00" y2="161.50" stroke="#289628" stroke-width="0.6"/>
<line x1="424.60" y1="172.20" x2="462.00" y2="163.40" stroke="#289628" stroke-width="0.6"/>
<line x1="424.60" y1="172.20" x2="462.00" y2="166.00" stroke="#289628" stroke-width="0.6"/>
<line x1="424.60" y1="172.20" x2="461.50" y2="192.40" stroke="#289628" stroke-width="0.6"/>
<line x1="424.60" y1="172.20" x2="461.50" y2="193.50" stroke="#289628" stroke-width="0.6"/>
<line x1="424.60" y1="172.20" x2="461.50" y2="194.60" stroke="#289628" stroke-width="0.6"/>
<line x1="424.60" y1="172.20" x2="461.50" y2="195.50" stroke="#289628" stroke-width="0.6"/>
<text x="459.90" y="145.60" font-size="4.2" fill="#333">SF1</text>
<text x="462.20" y="163.00" font-size="4.2" fill="#333">SF2</text>
<text x="462.20" y="167.10" font-size="4.2" fill="#333">SF4</text>
<text x="462.20" y="193.20" font-size="4.2" fill="#333">SF8</text>
<text x="462.20" y="197.80" font-size="4.2" fill="#333">SF6</text>
<circle cx="408.50" cy="144.50" r="1.9" fill="#6a1570"/>
<circle cx="403.90" cy="154.30" r="1.9" fill="#6a1570"/>
<circle cx="405.20" cy="165.60" r="1.9" fill="#6a1570"/>
<circle cx="429.10" cy="152.00" r="1.9" fill="#d23cb0"/>
<circle cx="459.80" cy="209.50" r="1.9" fill="#d23cb0"/>
<circle cx="478.10" cy="162.60" r="1.9" fill="#ee1111"/>
<circle cx="387.80" cy="217.80" r="1.9" fill="#1010ee"/>
<text x="410.50" y="143.00" font-size="3.8" fill="#333">UPCISCC 131</text>
<text x="390.30" y="160.90" font-size="3.8" fill="#333">UPCISCC 154</text>
<text x="381.50" y="170.70" font-size="3.8" fill="#333">UPCISCC 099</text>
<text x="432.00" y="152.60" font-size="3.8" fill="#333">Cal 27</text>
<text x="462.30" y="159.10" font-size="3.8" fill="#333">UPCISCC 040</text>
<text x="390.30" y="216.00" font-size="3.8" fill="#333">UDSCC 2</text>
<text x="462.80" y="213.00" font-size="3.8" fill="#333">Cal 33</text>
<text x="382.80" y="239.20" font-size="7.3" font-weight="bold">Principal Component 1 (89.5%)</text>
<text x="362.60" y="233.50" font-size="7.3" font-weight="bold" transform="rotate(-90 362.60 233.50)">Principal Component 2 (6.4%)</text>
<line x1="544.50" y1="126.00" x2="544.50" y2="222.90" stroke="#222" stroke-width="0.9"/>
<line x1="544.50" y1="222.90" x2="605.86" y2="222.90" stroke="#222" stroke-width="0.9"/>
<line x1="542.70" y1="130.70" x2="546.90" y2="127.40" stroke="#222" stroke-width="0.9"/>
<line x1="543.20" y1="129.60" x2="546.40" y2="127.00" stroke="#222" stroke-width="0.6"/>
<line x1="542.50" y1="222.90" x2="544.50" y2="222.90" stroke="#222" stroke-width="0.7"/>
<line x1="543.30" y1="215.45" x2="544.50" y2="215.45" stroke="#222" stroke-width="0.7"/>
<line x1="542.50" y1="208.00" x2="544.50" y2="208.00" stroke="#222" stroke-width="0.7"/>
<line x1="543.30" y1="200.55" x2="544.50" y2="200.55" stroke="#222" stroke-width="0.7"/>
<line x1="542.50" y1="193.10" x2="544.50" y2="193.10" stroke="#222" stroke-width="0.7"/>
<line x1="543.30" y1="185.65" x2="544.50" y2="185.65" stroke="#222" stroke-width="0.7"/>
<line x1="542.50" y1="178.20" x2="544.50" y2="178.20" stroke="#222" stroke-width="0.7"/>
<line x1="543.30" y1="170.75" x2="544.50" y2="170.75" stroke="#222" stroke-width="0.7"/>
<line x1="542.50" y1="163.30" x2="544.50" y2="163.30" stroke="#222" stroke-width="0.7"/>
<line x1="543.30" y1="155.85" x2="544.50" y2="155.85" stroke="#222" stroke-width="0.7"/>
<line x1="542.50" y1="148.40" x2="544.50" y2="148.40" stroke="#222" stroke-width="0.7"/>
<line x1="543.30" y1="140.95" x2="544.50" y2="140.95" stroke="#222" stroke-width="0.7"/>
<line x1="542.50" y1="133.50" x2="544.50" y2="133.50" stroke="#222" stroke-width="0.7"/>
<text x="540.90" y="225.10" font-size="6.3" font-weight="bold" text-anchor="end">6</text>
<text x="540.90" y="210.20" font-size="6.3" font-weight="bold" text-anchor="end">8</text>
<text x="540.90" y="195.30" font-size="6.3" font-weight="bold" text-anchor="end">10</text>
<text x="540.90" y="180.40" font-size="6.3" font-weight="bold" text-anchor="end">12</text>
<text x="540.90" y="165.50" font-size="6.3" font-weight="bold" text-anchor="end">14</text>
<text x="540.90" y="150.60" font-size="6.3" font-weight="bold" text-anchor="end">16</text>
<text x="540.90" y="135.70" font-size="6.3" font-weight="bold" text-anchor="end">18</text>
<line x1="544.44" y1="222.90" x2="544.44" y2="224.90" stroke="#222" stroke-width="0.7"/>
<line x1="552.08" y1="222.90" x2="552.08" y2="224.10" stroke="#222" stroke-width="0.7"/>
<line x1="559.72" y1="222.90" x2="559.72" y2="224.90" stroke="#222" stroke-width="0.7"/>
<line x1="567.36" y1="222.90" x2="567.36" y2="224.10" stroke="#222" stroke-width="0.7"/>
<line x1="575.00" y1="222.90" x2="575.00" y2="224.90" stroke="#222" stroke-width="0.7"/>
<line x1="582.64" y1="222.90" x2="582.64" y2="224.10" stroke="#222" stroke-width="0.7"/>
<line x1="590.28" y1="222.90" x2="590.28" y2="224.90" stroke="#222" stroke-width="0.7"/>
<line x1="597.92" y1="222.90" x2="597.92" y2="224.10" stroke="#222" stroke-width="0.7"/>
<line x1="605.56" y1="222.90" x2="605.56" y2="224.90" stroke="#222" stroke-width="0.7"/>
<text x="544.44" y="232.20" font-size="6.3" font-weight="bold" text-anchor="middle">-4</text>
<text x="559.72" y="232.20" font-size="6.3" font-weight="bold" text-anchor="middle">-2</text>
<text x="575.00" y="232.20" font-size="6.3" font-weight="bold" text-anchor="middle">0</text>
<text x="590.28" y="232.20" font-size="6.3" font-weight="bold" text-anchor="middle">2</text>
<text x="605.56" y="232.20" font-size="6.3" font-weight="bold" text-anchor="middle">4</text>
<circle cx="557.08" cy="124.30" r="2.2" fill="#000"/>
<circle cx="592.30" cy="124.30" r="2.2" fill="#000"/>
<circle cx="577.02" cy="158.09" r="2.2" fill="#000"/>
<circle cx="564.74" cy="165.54" r="2.2" fill="#000"/>
<circle cx="565.54" cy="168.51" r="2.2" fill="#000"/>
<circle cx="567.13" cy="174.47" r="2.2" fill="#000"/>
<circle cx="601.18" cy="218.43" r="2.2" fill="#000"/>
<text x="561.60" y="126.10" font-size="4.5" fill="#333">UDSCC 2</text>
<text x="596.80" y="126.10" font-size="4.5" fill="#333">Cal 33</text>
<text x="582.00" y="159.80" font-size="4.5" fill="#333">Cal 27</text>
<text x="569.60" y="166.50" font-size="4.5" fill="#333">UPCISCC 154</text>
<text x="569.60" y="170.40" font-size="4.5" fill="#333">UPCISCC 099</text>
<text x="572.00" y="176.20" font-size="4.5" fill="#333">UPCISCC 131</text>
<text x="605.90" y="220.20" font-size="4.5" fill="#333">UPCISCC 040</text>
<text x="543.20" y="239.60" font-size="7.3" font-weight="bold">Score of 1st PC RR</text>
<text x="533.00" y="206.70" font-size="7.3" font-weight="bold" transform="rotate(-90 533.00 206.70)">Alpha/beta Value</text>
<text x="28.60" y="266.40" font-size="7.3">Tumor growth <tspan font-style="italic">in vivo</tspan></text>
<polygon points="38.74,272.20 43.04,272.20 40.89,278.40" fill="#0a8a2a" stroke="#000" stroke-width="0.6" stroke-linejoin="round"/>
<polygon points="41.19,272.20 45.49,272.20 43.34,278.40" fill="#0a8a2a" stroke="#000" stroke-width="0.6" stroke-linejoin="round"/>
<polygon points="43.65,272.20 47.95,272.20 45.80,278.40" fill="#0a8a2a" stroke="#000" stroke-width="0.6" stroke-linejoin="round"/>
<polygon points="46.11,272.20 50.41,272.20 48.26,278.40" fill="#0a8a2a" stroke="#000" stroke-width="0.6" stroke-linejoin="round"/>
<polygon points="48.56,272.20 52.86,272.20 50.71,278.40" fill="#0a8a2a" stroke="#000" stroke-width="0.6" stroke-linejoin="round"/>
<polygon points="55.93,272.20 60.23,272.20 58.08,278.40" fill="#0a8a2a" stroke="#000" stroke-width="0.6" stroke-linejoin="round"/>
<polygon points="58.39,272.20 62.69,272.20 60.54,278.40" fill="#0a8a2a" stroke="#000" stroke-width="0.6" stroke-linejoin="round"/>
<polygon points="60.85,272.20 65.15,272.20 63.00,278.40" fill="#0a8a2a" stroke="#000" stroke-width="0.6" stroke-linejoin="round"/>
<polygon points="63.30,272.20 67.61,272.20 65.45,278.40" fill="#0a8a2a" stroke="#000" stroke-width="0.6" stroke-linejoin="round"/>
<polygon points="65.76,272.20 70.06,272.20 67.91,278.40" fill="#0a8a2a" stroke="#000" stroke-width="0.6" stroke-linejoin="round"/>
<line x1="28.40" y1="283.30" x2="183.40" y2="283.30" stroke="#333" stroke-width="0.9"/>
<line x1="28.60" y1="283.30" x2="28.60" y2="281.10" stroke="#333" stroke-width="0.6"/>
<line x1="31.06" y1="283.30" x2="31.06" y2="282.20" stroke="#333" stroke-width="0.6"/>
<line x1="33.51" y1="283.30" x2="33.51" y2="282.20" stroke="#333" stroke-width="0.6"/>
<line x1="35.97" y1="283.30" x2="35.97" y2="282.20" stroke="#333" stroke-width="0.6"/>
<line x1="38.43" y1="283.30" x2="38.43" y2="282.20" stroke="#333" stroke-width="0.6"/>
<line x1="40.89" y1="283.30" x2="40.89" y2="282.20" stroke="#333" stroke-width="0.6"/>
<line x1="43.34" y1="283.30" x2="43.34" y2="282.20" stroke="#333" stroke-width="0.6"/>
<line x1="45.80" y1="283.30" x2="45.80" y2="281.10" stroke="#333" stroke-width="0.6"/>
<line x1="48.26" y1="283.30" x2="48.26" y2="282.20" stroke="#333" stroke-width="0.6"/>
<line x1="50.71" y1="283.30" x2="50.71" y2="282.20" stroke="#333" stroke-width="0.6"/>
<line x1="53.17" y1="283.30" x2="53.17" y2="282.20" stroke="#333" stroke-width="0.6"/>
<line x1="55.63" y1="283.30" x2="55.63" y2="282.20" stroke="#333" stroke-width="0.6"/>
<line x1="58.08" y1="283.30" x2="58.08" y2="282.20" stroke="#333" stroke-width="0.6"/>
<line x1="60.54" y1="283.30" x2="60.54" y2="282.20" stroke="#333" stroke-width="0.6"/>
<line x1="63.00" y1="283.30" x2="63.00" y2="281.10" stroke="#333" stroke-width="0.6"/>
<line x1="65.45" y1="283.30" x2="65.45" y2="282.20" stroke="#333" stroke-width="0.6"/>
<line x1="67.91" y1="283.30" x2="67.91" y2="282.20" stroke="#333" stroke-width="0.6"/>
<line x1="70.37" y1="283.30" x2="70.37" y2="282.20" stroke="#333" stroke-width="0.6"/>
<line x1="72.83" y1="283.30" x2="72.83" y2="282.20" stroke="#333" stroke-width="0.6"/>
<line x1="75.28" y1="283.30" x2="75.28" y2="282.20" stroke="#333" stroke-width="0.6"/>
<line x1="77.74" y1="283.30" x2="77.74" y2="282.20" stroke="#333" stroke-width="0.6"/>
<line x1="80.20" y1="283.30" x2="80.20" y2="281.10" stroke="#333" stroke-width="0.6"/>
<line x1="82.65" y1="283.30" x2="82.65" y2="282.20" stroke="#333" stroke-width="0.6"/>
<line x1="85.11" y1="283.30" x2="85.11" y2="282.20" stroke="#333" stroke-width="0.6"/>
<line x1="87.57" y1="283.30" x2="87.57" y2="282.20" stroke="#333" stroke-width="0.6"/>
<line x1="90.03" y1="283.30" x2="90.03" y2="282.20" stroke="#333" stroke-width="0.6"/>
<line x1="92.48" y1="283.30" x2="92.48" y2="282.20" stroke="#333" stroke-width="0.6"/>
<line x1="94.94" y1="283.30" x2="94.94" y2="282.20" stroke="#333" stroke-width="0.6"/>
<line x1="97.40" y1="283.30" x2="97.40" y2="281.10" stroke="#333" stroke-width="0.6"/>
<line x1="99.85" y1="283.30" x2="99.85" y2="282.20" stroke="#333" stroke-width="0.6"/>
<line x1="102.31" y1="283.30" x2="102.31" y2="282.20" stroke="#333" stroke-width="0.6"/>
<line x1="104.77" y1="283.30" x2="104.77" y2="282.20" stroke="#333" stroke-width="0.6"/>
<line x1="107.22" y1="283.30" x2="107.22" y2="282.20" stroke="#333" stroke-width="0.6"/>
<line x1="109.68" y1="283.30" x2="109.68" y2="282.20" stroke="#333" stroke-width="0.6"/>
<line x1="112.14" y1="283.30" x2="112.14" y2="282.20" stroke="#333" stroke-width="0.6"/>
<line x1="114.59" y1="283.30" x2="114.59" y2="281.10" stroke="#333" stroke-width="0.6"/>
<line x1="117.05" y1="283.30" x2="117.05" y2="282.20" stroke="#333" stroke-width="0.6"/>
<line x1="119.51" y1="283.30" x2="119.51" y2="282.20" stroke="#333" stroke-width="0.6"/>
<line x1="121.97" y1="283.30" x2="121.97" y2="282.20" stroke="#333" stroke-width="0.6"/>
<line x1="124.42" y1="283.30" x2="124.42" y2="282.20" stroke="#333" stroke-width="0.6"/>
<line x1="126.88" y1="283.30" x2="126.88" y2="282.20" stroke="#333" stroke-width="0.6"/>
<line x1="129.34" y1="283.30" x2="129.34" y2="282.20" stroke="#333" stroke-width="0.6"/>
<line x1="131.79" y1="283.30" x2="131.79" y2="281.10" stroke="#333" stroke-width="0.6"/>
<line x1="134.25" y1="283.30" x2="134.25" y2="282.20" stroke="#333" stroke-width="0.6"/>
<line x1="136.71" y1="283.30" x2="136.71" y2="282.20" stroke="#333" stroke-width="0.6"/>
<line x1="139.16" y1="283.30" x2="139.16" y2="282.20" stroke="#333" stroke-width="0.6"/>
<line x1="141.62" y1="283.30" x2="141.62" y2="282.20" stroke="#333" stroke-width="0.6"/>
<line x1="144.08" y1="283.30" x2="144.08" y2="282.20" stroke="#333" stroke-width="0.6"/>
<line x1="146.54" y1="283.30" x2="146.54" y2="282.20" stroke="#333" stroke-width="0.6"/>
<line x1="148.99" y1="283.30" x2="148.99" y2="281.10" stroke="#333" stroke-width="0.6"/>
<line x1="151.45" y1="283.30" x2="151.45" y2="282.20" stroke="#333" stroke-width="0.6"/>
<line x1="153.91" y1="283.30" x2="153.91" y2="282.20" stroke="#333" stroke-width="0.6"/>
<line x1="156.36" y1="283.30" x2="156.36" y2="282.20" stroke="#333" stroke-width="0.6"/>
<line x1="158.82" y1="283.30" x2="158.82" y2="282.20" stroke="#333" stroke-width="0.6"/>
<line x1="161.28" y1="283.30" x2="161.28" y2="282.20" stroke="#333" stroke-width="0.6"/>
<line x1="163.73" y1="283.30" x2="163.73" y2="282.20" stroke="#333" stroke-width="0.6"/>
<line x1="166.19" y1="283.30" x2="166.19" y2="281.10" stroke="#333" stroke-width="0.6"/>
<line x1="168.65" y1="283.30" x2="168.65" y2="282.20" stroke="#333" stroke-width="0.6"/>
<line x1="171.11" y1="283.30" x2="171.11" y2="282.20" stroke="#333" stroke-width="0.6"/>
<line x1="173.56" y1="283.30" x2="173.56" y2="282.20" stroke="#333" stroke-width="0.6"/>
<line x1="176.02" y1="283.30" x2="176.02" y2="282.20" stroke="#333" stroke-width="0.6"/>
<line x1="178.48" y1="283.30" x2="178.48" y2="282.20" stroke="#333" stroke-width="0.6"/>
<line x1="180.93" y1="283.30" x2="180.93" y2="282.20" stroke="#333" stroke-width="0.6"/>
<line x1="183.39" y1="283.30" x2="183.39" y2="281.10" stroke="#333" stroke-width="0.6"/>
<text x="141.30" y="277.70" font-size="6.5" font-weight="bold">RTX: 10x 2 Gy</text>
<polygon points="36.00,397.50 40.00,395.50 43.00,391.00 45.60,384.00 50.00,372.00 56.20,352.00 63.20,327.60 64.70,320.00 74.60,285.80 75.70,285.80 75.70,321.50 73.40,327.60 64.90,352.00 52.80,384.00 45.00,392.00 38.00,397.80" fill="#ffc8c8"/>
<polygon points="40.00,394.50 45.00,389.00 50.00,383.00 53.10,379.90 55.10,379.30 62.60,374.40 71.80,369.50 77.50,365.70 78.60,363.40 80.10,357.30 82.00,356.60 85.00,352.00 89.70,341.50 89.70,373.90 87.40,381.60 83.50,386.30 76.60,386.00 69.80,387.10 62.90,388.30 59.90,389.00 56.90,387.90 53.80,388.30 50.80,389.80 47.00,391.70 43.20,394.70 40.00,396.00" fill="#fa8e8e"/>
<polygon points="36.00,391.00 39.40,391.00 43.20,392.70 46.20,394.70 58.40,395.00 70.50,393.80 75.10,391.80 80.00,389.50 90.00,386.00 98.10,379.50 110.20,374.40 116.20,366.50 121.80,360.00 125.50,352.00 127.30,345.20 131.90,323.60 131.90,373.40 128.30,378.50 126.30,389.50 122.20,380.50 116.00,383.00 110.00,387.60 98.00,392.00 90.00,393.50 80.00,394.20 75.10,395.40 70.50,397.20 58.40,398.20 46.20,398.00 43.20,396.00 39.40,394.20 36.00,394.20" fill="#c8c8ff"/>
<polygon points="46.00,396.30 53.10,397.70 69.80,398.30 80.00,397.60 91.70,396.30 96.00,397.40 109.00,396.70 122.00,398.90 137.00,398.50 144.40,396.30 150.00,397.50 160.00,396.70 168.80,394.10 168.80,401.20 122.00,401.20 96.00,400.80 80.00,400.50 69.80,400.20 53.10,399.40 46.00,397.30" fill="#5c5cea"/>
<polyline points="36.00,396.30 40.10,394.40 41.70,393.20 45.50,387.90 48.20,384.00 51.50,375.80 56.00,364.00 60.80,352.00 65.00,336.00 69.80,320.00 75.70,303.00" stroke="#ff2828" stroke-width="0.8" fill="none"/>
<polyline points="40.00,395.20 45.50,390.00 50.00,386.40 53.10,384.50 56.10,383.00 58.40,384.50 61.40,382.60 62.90,381.10 67.50,380.30 71.80,378.20 77.10,375.50 79.70,371.60 82.00,371.40 82.70,372.40 86.60,367.80 89.70,358.50" stroke="#7a1a1a" stroke-width="0.6" fill="none"/>
<polyline points="36.00,392.60 39.40,392.60 43.20,394.40 46.20,396.40 58.40,396.60 70.50,395.50 75.10,393.60 80.00,392.10 89.70,390.90 95.80,387.00 98.10,385.50 109.10,380.50 116.20,374.00 122.20,368.40 126.30,368.00 128.30,351.20 131.30,347.20" stroke="#2828ff" stroke-width="0.7" fill="none"/>
<polyline points="46.00,396.80 50.00,397.60 53.10,398.50 58.40,399.10 69.80,399.30 80.00,399.20 91.70,398.40 96.00,399.00 109.00,398.80 122.00,400.00 137.00,399.60 144.40,397.80 150.00,398.80 160.00,398.40 168.80,397.60" stroke="#2222b8" stroke-width="0.7" fill="none"/>
<line x1="28.40" y1="285.00" x2="28.40" y2="402.00" stroke="#222" stroke-width="0.9"/>
<line x1="28.40" y1="402.00" x2="183.40" y2="402.00" stroke="#222" stroke-width="0.9"/>
<line x1="26.20" y1="402.00" x2="28.40" y2="402.00" stroke="#222" stroke-width="0.7"/>
<line x1="27.20" y1="382.55" x2="28.40" y2="382.55" stroke="#222" stroke-width="0.7"/>
<line x1="26.20" y1="363.10" x2="28.40" y2="363.10" stroke="#222" stroke-width="0.7"/>
<line x1="27.20" y1="343.65" x2="28.40" y2="343.65" stroke="#222" stroke-width="0.7"/>
<line x1="26.20" y1="324.20" x2="28.40" y2="324.20" stroke="#222" stroke-width="0.7"/>
<line x1="27.20" y1="304.75" x2="28.40" y2="304.75" stroke="#222" stroke-width="0.7"/>
<line x1="26.20" y1="285.30" x2="28.40" y2="285.30" stroke="#222" stroke-width="0.7"/>
<text x="24.90" y="404.30" font-size="6.3" font-weight="bold" text-anchor="end">0</text>
<text x="24.90" y="365.40" font-size="6.3" font-weight="bold" text-anchor="end">500</text>
<text x="24.90" y="326.50" font-size="6.3" font-weight="bold" text-anchor="end">1000</text>
<text x="24.90" y="287.60" font-size="6.3" font-weight="bold" text-anchor="end">1500</text>
<line x1="28.60" y1="402.00" x2="28.60" y2="404.20" stroke="#222" stroke-width="0.6"/>
<line x1="31.06" y1="402.00" x2="31.06" y2="403.10" stroke="#222" stroke-width="0.6"/>
<line x1="33.51" y1="402.00" x2="33.51" y2="403.10" stroke="#222" stroke-width="0.6"/>
<line x1="35.97" y1="402.00" x2="35.97" y2="403.10" stroke="#222" stroke-width="0.6"/>
<line x1="38.43" y1="402.00" x2="38.43" y2="403.10" stroke="#222" stroke-width="0.6"/>
<line x1="40.89" y1="402.00" x2="40.89" y2="403.10" stroke="#222" stroke-width="0.6"/>
<line x1="43.34" y1="402.00" x2="43.34" y2="403.10" stroke="#222" stroke-width="0.6"/>
<line x1="45.80" y1="402.00" x2="45.80" y2="404.20" stroke="#222" stroke-width="0.6"/>
<line x1="48.26" y1="402.00" x2="48.26" y2="403.10" stroke="#222" stroke-width="0.6"/>
<line x1="50.71" y1="402.00" x2="50.71" y2="403.10" stroke="#222" stroke-width="0.6"/>
<line x1="53.17" y1="402.00" x2="53.17" y2="403.10" stroke="#222" stroke-width="0.6"/>
<line x1="55.63" y1="402.00" x2="55.63" y2="403.10" stroke="#222" stroke-width="0.6"/>
<line x1="58.08" y1="402.00" x2="58.08" y2="403.10" stroke="#222" stroke-width="0.6"/>
<line x1="60.54" y1="402.00" x2="60.54" y2="403.10" stroke="#222" stroke-width="0.6"/>
<line x1="63.00" y1="402.00" x2="63.00" y2="404.20" stroke="#222" stroke-width="0.6"/>
<line x1="65.45" y1="402.00" x2="65.45" y2="403.10" stroke="#222" stroke-width="0.6"/>
<line x1="67.91" y1="402.00" x2="67.91" y2="403.10" stroke="#222" stroke-width="0.6"/>
<line x1="70.37" y1="402.00" x2="70.37" y2="403.10" stroke="#222" stroke-width="0.6"/>
<line x1="72.83" y1="402.00" x2="72.83" y2="403.10" stroke="#222" stroke-width="0.6"/>
<line x1="75.28" y1="402.00" x2="75.28" y2="403.10" stroke="#222" stroke-width="0.6"/>
<line x1="77.74" y1="402.00" x2="77.74" y2="403.10" stroke="#222" stroke-width="0.6"/>
<line x1="80.20" y1="402.00" x2="80.20" y2="404.20" stroke="#222" stroke-width="0.6"/>
<line x1="82.65" y1="402.00" x2="82.65" y2="403.10" stroke="#222" stroke-width="0.6"/>
<line x1="85.11" y1="402.00" x2="85.11" y2="403.10" stroke="#222" stroke-width="0.6"/>
<line x1="87.57" y1="402.00" x2="87.57" y2="403.10" stroke="#222" stroke-width="0.6"/>
<line x1="90.03" y1="402.00" x2="90.03" y2="403.10" stroke="#222" stroke-width="0.6"/>
<line x1="92.48" y1="402.00" x2="92.48" y2="403.10" stroke="#222" stroke-width="0.6"/>
<line x1="94.94" y1="402.00" x2="94.94" y2="403.10" stroke="#222" stroke-width="0.6"/>
<line x1="97.40" y1="402.00" x2="97.40" y2="404.20" stroke="#222" stroke-width="0.6"/>
<line x1="99.85" y1="402.00" x2="99.85" y2="403.10" stroke="#222" stroke-width="0.6"/>
<line x1="102.31" y1="402.00" x2="102.31" y2="403.10" stroke="#222" stroke-width="0.6"/>
<line x1="104.77" y1="402.00" x2="104.77" y2="403.10" stroke="#222" stroke-width="0.6"/>
<line x1="107.22" y1="402.00" x2="107.22" y2="403.10" stroke="#222" stroke-width="0.6"/>
<line x1="109.68" y1="402.00" x2="109.68" y2="403.10" stroke="#222" stroke-width="0.6"/>
<line x1="112.14" y1="402.00" x2="112.14" y2="403.10" stroke="#222" stroke-width="0.6"/>
<line x1="114.59" y1="402.00" x2="114.59" y2="404.20" stroke="#222" stroke-width="0.6"/>
<line x1="117.05" y1="402.00" x2="117.05" y2="403.10" stroke="#222" stroke-width="0.6"/>
<line x1="119.51" y1="402.00" x2="119.51" y2="403.10" stroke="#222" stroke-width="0.6"/>
<line x1="121.97" y1="402.00" x2="121.97" y2="403.10" stroke="#222" stroke-width="0.6"/>
<line x1="124.42" y1="402.00" x2="124.42" y2="403.10" stroke="#222" stroke-width="0.6"/>
<line x1="126.88" y1="402.00" x2="126.88" y2="403.10" stroke="#222" stroke-width="0.6"/>
<line x1="129.34" y1="402.00" x2="129.34" y2="403.10" stroke="#222" stroke-width="0.6"/>
<line x1="131.79" y1="402.00" x2="131.79" y2="404.20" stroke="#222" stroke-width="0.6"/>
<line x1="134.25" y1="402.00" x2="134.25" y2="403.10" stroke="#222" stroke-width="0.6"/>
<line x1="136.71" y1="402.00" x2="136.71" y2="403.10" stroke="#222" stroke-width="0.6"/>
<line x1="139.16" y1="402.00" x2="139.16" y2="403.10" stroke="#222" stroke-width="0.6"/>
<line x1="141.62" y1="402.00" x2="141.62" y2="403.10" stroke="#222" stroke-width="0.6"/>
<line x1="144.08" y1="402.00" x2="144.08" y2="403.10" stroke="#222" stroke-width="0.6"/>
<line x1="146.54" y1="402.00" x2="146.54" y2="403.10" stroke="#222" stroke-width="0.6"/>
<line x1="148.99" y1="402.00" x2="148.99" y2="404.20" stroke="#222" stroke-width="0.6"/>
<line x1="151.45" y1="402.00" x2="151.45" y2="403.10" stroke="#222" stroke-width="0.6"/>
<line x1="153.91" y1="402.00" x2="153.91" y2="403.10" stroke="#222" stroke-width="0.6"/>
<line x1="156.36" y1="402.00" x2="156.36" y2="403.10" stroke="#222" stroke-width="0.6"/>
<line x1="158.82" y1="402.00" x2="158.82" y2="403.10" stroke="#222" stroke-width="0.6"/>
<line x1="161.28" y1="402.00" x2="161.28" y2="403.10" stroke="#222" stroke-width="0.6"/>
<line x1="163.73" y1="402.00" x2="163.73" y2="403.10" stroke="#222" stroke-width="0.6"/>
<line x1="166.19" y1="402.00" x2="166.19" y2="404.20" stroke="#222" stroke-width="0.6"/>
<line x1="168.65" y1="402.00" x2="168.65" y2="403.10" stroke="#222" stroke-width="0.6"/>
<line x1="171.11" y1="402.00" x2="171.11" y2="403.10" stroke="#222" stroke-width="0.6"/>
<line x1="173.56" y1="402.00" x2="173.56" y2="403.10" stroke="#222" stroke-width="0.6"/>
<line x1="176.02" y1="402.00" x2="176.02" y2="403.10" stroke="#222" stroke-width="0.6"/>
<line x1="178.48" y1="402.00" x2="178.48" y2="403.10" stroke="#222" stroke-width="0.6"/>
<line x1="180.93" y1="402.00" x2="180.93" y2="403.10" stroke="#222" stroke-width="0.6"/>
<line x1="183.39" y1="402.00" x2="183.39" y2="404.20" stroke="#222" stroke-width="0.6"/>
<text x="28.60" y="409.80" font-size="6.2" font-weight="bold" text-anchor="middle">0</text>
<text x="45.80" y="409.80" font-size="6.2" font-weight="bold" text-anchor="middle">7</text>
<text x="63.00" y="409.80" font-size="6.2" font-weight="bold" text-anchor="middle">14</text>
<text x="80.20" y="409.80" font-size="6.2" font-weight="bold" text-anchor="middle">21</text>
<text x="97.40" y="409.80" font-size="6.2" font-weight="bold" text-anchor="middle">28</text>
<text x="114.59" y="409.80" font-size="6.2" font-weight="bold" text-anchor="middle">35</text>
<text x="131.79" y="409.80" font-size="6.2" font-weight="bold" text-anchor="middle">42</text>
<text x="148.99" y="409.80" font-size="6.2" font-weight="bold" text-anchor="middle">49</text>
<text x="166.19" y="409.80" font-size="6.2" font-weight="bold" text-anchor="middle">56</text>
<text x="183.39" y="409.80" font-size="6.2" font-weight="bold" text-anchor="middle">63</text>
<text x="103.70" y="420.20" font-size="8.5" font-weight="bold" text-anchor="middle">Time [d]</text>
<text x="7.90" y="338.80" font-size="8.5" font-weight="bold" text-anchor="middle" transform="rotate(-90 7.90 338.80)">Tumor volume [mm<tspan font-size="5.5" dy="-3.2">3</tspan><tspan dy="3.2">]</tspan></text>
<rect x="83.70" y="290.00" width="9.20" height="4.40" fill="#ffc8c8"/>
<line x1="83.70" y1="292.20" x2="92.90" y2="292.20" stroke="#ff2828" stroke-width="0.9"/>
<text x="94.50" y="293.90" font-size="5.35" font-weight="bold">Cal 33 Control (n=12)</text>
<rect x="83.70" y="296.00" width="9.20" height="4.40" fill="#f89090"/>
<line x1="83.70" y1="298.20" x2="92.90" y2="298.20" stroke="#a83c3c" stroke-width="0.9"/>
<text x="94.50" y="299.30" font-size="5.35" font-weight="bold">Cal 33 RTX (n=12)</text>
<rect x="83.70" y="301.20" width="9.20" height="4.40" fill="#d0d0ff"/>
<line x1="83.70" y1="303.40" x2="92.90" y2="303.40" stroke="#3434ff" stroke-width="0.9"/>
<text x="94.50" y="304.80" font-size="5.35" font-weight="bold">UDSCC 2 Control (n=10)</text>
<rect x="83.70" y="307.20" width="9.20" height="4.40" fill="#5a5ae6"/>
<line x1="83.70" y1="309.40" x2="92.90" y2="309.40" stroke="#2828b8" stroke-width="0.9"/>
<text x="94.50" y="310.80" font-size="5.35" font-weight="bold">UDSCC 2 RTX (n=10)</text>
<text x="221.30" y="267.70" font-size="7.3">Time to tumor volume &gt; 400 mm<tspan font-size="4.5" dy="-3">3</tspan></text>
<polygon points="231.88,272.20 236.18,272.20 234.03,278.40" fill="#0a8a2a" stroke="#000" stroke-width="0.6" stroke-linejoin="round"/>
<polygon points="234.33,272.20 238.63,272.20 236.48,278.40" fill="#0a8a2a" stroke="#000" stroke-width="0.6" stroke-linejoin="round"/>
<polygon points="236.77,272.20 241.07,272.20 238.92,278.40" fill="#0a8a2a" stroke="#000" stroke-width="0.6" stroke-linejoin="round"/>
<polygon points="239.22,272.20 243.52,272.20 241.37,278.40" fill="#0a8a2a" stroke="#000" stroke-width="0.6" stroke-linejoin="round"/>
<polygon points="241.66,272.20 245.96,272.20 243.81,278.40" fill="#0a8a2a" stroke="#000" stroke-width="0.6" stroke-linejoin="round"/>
<polygon points="249.00,272.20 253.30,272.20 251.15,278.40" fill="#0a8a2a" stroke="#000" stroke-width="0.6" stroke-linejoin="round"/>
<polygon points="251.45,272.20 255.75,272.20 253.60,278.40" fill="#0a8a2a" stroke="#000" stroke-width="0.6" stroke-linejoin="round"/>
<polygon points="253.89,272.20 258.19,272.20 256.04,278.40" fill="#0a8a2a" stroke="#000" stroke-width="0.6" stroke-linejoin="round"/>
<polygon points="256.34,272.20 260.64,272.20 258.49,278.40" fill="#0a8a2a" stroke="#000" stroke-width="0.6" stroke-linejoin="round"/>
<polygon points="258.79,272.20 263.09,272.20 260.94,278.40" fill="#0a8a2a" stroke="#000" stroke-width="0.6" stroke-linejoin="round"/>
<line x1="221.30" y1="282.30" x2="376.20" y2="282.30" stroke="#333" stroke-width="0.9"/>
<line x1="221.80" y1="282.30" x2="221.80" y2="280.10" stroke="#333" stroke-width="0.6"/>
<line x1="224.25" y1="282.30" x2="224.25" y2="281.20" stroke="#333" stroke-width="0.6"/>
<line x1="226.69" y1="282.30" x2="226.69" y2="281.20" stroke="#333" stroke-width="0.6"/>
<line x1="229.14" y1="282.30" x2="229.14" y2="281.20" stroke="#333" stroke-width="0.6"/>
<line x1="231.58" y1="282.30" x2="231.58" y2="281.20" stroke="#333" stroke-width="0.6"/>
<line x1="234.03" y1="282.30" x2="234.03" y2="281.20" stroke="#333" stroke-width="0.6"/>
<line x1="236.48" y1="282.30" x2="236.48" y2="281.20" stroke="#333" stroke-width="0.6"/>
<line x1="238.92" y1="282.30" x2="238.92" y2="280.10" stroke="#333" stroke-width="0.6"/>
<line x1="241.37" y1="282.30" x2="241.37" y2="281.20" stroke="#333" stroke-width="0.6"/>
<line x1="243.81" y1="282.30" x2="243.81" y2="281.20" stroke="#333" stroke-width="0.6"/>
<line x1="246.26" y1="282.30" x2="246.26" y2="281.20" stroke="#333" stroke-width="0.6"/>
<line x1="248.71" y1="282.30" x2="248.71" y2="281.20" stroke="#333" stroke-width="0.6"/>
<line x1="251.15" y1="282.30" x2="251.15" y2="281.20" stroke="#333" stroke-width="0.6"/>
<line x1="253.60" y1="282.30" x2="253.60" y2="281.20" stroke="#333" stroke-width="0.6"/>
<line x1="256.04" y1="282.30" x2="256.04" y2="280.10" stroke="#333" stroke-width="0.6"/>
<line x1="258.49" y1="282.30" x2="258.49" y2="281.20" stroke="#333" stroke-width="0.6"/>
<line x1="260.94" y1="282.30" x2="260.94" y2="281.20" stroke="#333" stroke-width="0.6"/>
<line x1="263.38" y1="282.30" x2="263.38" y2="281.20" stroke="#333" stroke-width="0.6"/>
<line x1="265.83" y1="282.30" x2="265.83" y2="281.20" stroke="#333" stroke-width="0.6"/>
<line x1="268.27" y1="282.30" x2="268.27" y2="281.20" stroke="#333" stroke-width="0.6"/>
<line x1="270.72" y1="282.30" x2="270.72" y2="281.20" stroke="#333" stroke-width="0.6"/>
<line x1="273.17" y1="282.30" x2="273.17" y2="280.10" stroke="#333" stroke-width="0.6"/>
<line x1="275.61" y1="282.30" x2="275.61" y2="281.20" stroke="#333" stroke-width="0.6"/>
<line x1="278.06" y1="282.30" x2="278.06" y2="281.20" stroke="#333" stroke-width="0.6"/>
<line x1="280.50" y1="282.30" x2="280.50" y2="281.20" stroke="#333" stroke-width="0.6"/>
<line x1="282.95" y1="282.30" x2="282.95" y2="281.20" stroke="#333" stroke-width="0.6"/>
<line x1="285.40" y1="282.30" x2="285.40" y2="281.20" stroke="#333" stroke-width="0.6"/>
<line x1="287.84" y1="282.30" x2="287.84" y2="281.20" stroke="#333" stroke-width="0.6"/>
<line x1="290.29" y1="282.30" x2="290.29" y2="280.10" stroke="#333" stroke-width="0.6"/>
<line x1="292.73" y1="282.30" x2="292.73" y2="281.20" stroke="#333" stroke-width="0.6"/>
<line x1="295.18" y1="282.30" x2="295.18" y2="281.20" stroke="#333" stroke-width="0.6"/>
<line x1="297.63" y1="282.30" x2="297.63" y2="281.20" stroke="#333" stroke-width="0.6"/>
<line x1="300.07" y1="282.30" x2="300.07" y2="281.20" stroke="#333" stroke-width="0.6"/>
<line x1="302.52" y1="282.30" x2="302.52" y2="281.20" stroke="#333" stroke-width="0.6"/>
<line x1="304.96" y1="282.30" x2="304.96" y2="281.20" stroke="#333" stroke-width="0.6"/>
<line x1="307.41" y1="282.30" x2="307.41" y2="280.10" stroke="#333" stroke-width="0.6"/>
<line x1="309.86" y1="282.30" x2="309.86" y2="281.20" stroke="#333" stroke-width="0.6"/>
<line x1="312.30" y1="282.30" x2="312.30" y2="281.20" stroke="#333" stroke-width="0.6"/>
<line x1="314.75" y1="282.30" x2="314.75" y2="281.20" stroke="#333" stroke-width="0.6"/>
<line x1="317.19" y1="282.30" x2="317.19" y2="281.20" stroke="#333" stroke-width="0.6"/>
<line x1="319.64" y1="282.30" x2="319.64" y2="281.20" stroke="#333" stroke-width="0.6"/>
<line x1="322.09" y1="282.30" x2="322.09" y2="281.20" stroke="#333" stroke-width="0.6"/>
<line x1="324.53" y1="282.30" x2="324.53" y2="280.10" stroke="#333" stroke-width="0.6"/>
<line x1="326.98" y1="282.30" x2="326.98" y2="281.20" stroke="#333" stroke-width="0.6"/>
<line x1="329.42" y1="282.30" x2="329.42" y2="281.20" stroke="#333" stroke-width="0.6"/>
<line x1="331.87" y1="282.30" x2="331.87" y2="281.20" stroke="#333" stroke-width="0.6"/>
<line x1="334.32" y1="282.30" x2="334.32" y2="281.20" stroke="#333" stroke-width="0.6"/>
<line x1="336.76" y1="282.30" x2="336.76" y2="281.20" stroke="#333" stroke-width="0.6"/>
<line x1="339.21" y1="282.30" x2="339.21" y2="281.20" stroke="#333" stroke-width="0.6"/>
<line x1="341.65" y1="282.30" x2="341.65" y2="280.10" stroke="#333" stroke-width="0.6"/>
<line x1="344.10" y1="282.30" x2="344.10" y2="281.20" stroke="#333" stroke-width="0.6"/>
<line x1="346.55" y1="282.30" x2="346.55" y2="281.20" stroke="#333" stroke-width="0.6"/>
<line x1="348.99" y1="282.30" x2="348.99" y2="281.20" stroke="#333" stroke-width="0.6"/>
<line x1="351.44" y1="282.30" x2="351.44" y2="281.20" stroke="#333" stroke-width="0.6"/>
<line x1="353.88" y1="282.30" x2="353.88" y2="281.20" stroke="#333" stroke-width="0.6"/>
<line x1="356.33" y1="282.30" x2="356.33" y2="281.20" stroke="#333" stroke-width="0.6"/>
<line x1="358.78" y1="282.30" x2="358.78" y2="280.10" stroke="#333" stroke-width="0.6"/>
<line x1="361.22" y1="282.30" x2="361.22" y2="281.20" stroke="#333" stroke-width="0.6"/>
<line x1="363.67" y1="282.30" x2="363.67" y2="281.20" stroke="#333" stroke-width="0.6"/>
<line x1="366.11" y1="282.30" x2="366.11" y2="281.20" stroke="#333" stroke-width="0.6"/>
<line x1="368.56" y1="282.30" x2="368.56" y2="281.20" stroke="#333" stroke-width="0.6"/>
<line x1="371.01" y1="282.30" x2="371.01" y2="281.20" stroke="#333" stroke-width="0.6"/>
<line x1="373.45" y1="282.30" x2="373.45" y2="281.20" stroke="#333" stroke-width="0.6"/>
<line x1="375.90" y1="282.30" x2="375.90" y2="280.10" stroke="#333" stroke-width="0.6"/>
<text x="378.60" y="278.00" font-size="6.5" font-weight="bold" text-anchor="end">RTX: 10x 2 Gy</text>
<line x1="221.50" y1="343.30" x2="310.40" y2="343.30" stroke="#aaa" stroke-width="0.5" stroke-dasharray="1.5 1"/>
<line x1="248.50" y1="343.30" x2="248.50" y2="401.20" stroke="#aaa" stroke-width="0.5" stroke-dasharray="1.5 1"/>
<line x1="280.50" y1="343.30" x2="280.50" y2="401.20" stroke="#aaa" stroke-width="0.5" stroke-dasharray="1.5 1"/>
<line x1="310.40" y1="343.30" x2="310.40" y2="401.20" stroke="#aaa" stroke-width="0.5" stroke-dasharray="1.5 1"/>
<polyline points="246.10,285.30 246.10,327.20 248.50,327.20 248.50,359.40 251.40,359.40 251.40,380.40 258.60,380.40 258.60,391.10 263.40,391.10 263.40,401.20" stroke="#ff4050" stroke-width="0.8" fill="none"/>
<polyline points="255.70,285.30 255.70,298.20 258.00,298.20 258.00,311.20 263.50,311.20 263.50,324.30 270.70,324.30 270.70,337.20 280.70,337.20 280.70,369.50 282.90,369.50" stroke="#c05a5a" stroke-width="0.8" fill="none"/>
<polyline points="221.50,285.30 361.30,285.30" stroke="#4e4aa6" stroke-width="1.0" fill="none"/>
<polyline points="302.40,285.30 302.40,296.60 307.50,296.60 307.50,342.90 314.70,342.90 314.70,355.00 319.60,355.00 319.60,366.20 324.40,366.20 324.40,378.50" stroke="#3232ff" stroke-width="0.8" fill="none"/>
<line x1="221.50" y1="285.00" x2="221.50" y2="401.20" stroke="#222" stroke-width="0.9"/>
<line x1="221.50" y1="401.20" x2="376.00" y2="401.20" stroke="#222" stroke-width="0.9"/>
<line x1="218.90" y1="401.20" x2="221.50" y2="401.20" stroke="#222" stroke-width="0.7"/>
<line x1="220.30" y1="389.61" x2="221.50" y2="389.61" stroke="#222" stroke-width="0.7"/>
<line x1="218.90" y1="378.02" x2="221.50" y2="378.02" stroke="#222" stroke-width="0.7"/>
<line x1="220.30" y1="366.43" x2="221.50" y2="366.43" stroke="#222" stroke-width="0.7"/>
<line x1="218.90" y1="354.84" x2="221.50" y2="354.84" stroke="#222" stroke-width="0.7"/>
<line x1="220.30" y1="343.25" x2="221.50" y2="343.25" stroke="#222" stroke-width="0.7"/>
<line x1="218.90" y1="331.66" x2="221.50" y2="331.66" stroke="#222" stroke-width="0.7"/>
<line x1="220.30" y1="320.07" x2="221.50" y2="320.07" stroke="#222" stroke-width="0.7"/>
<line x1="218.90" y1="308.48" x2="221.50" y2="308.48" stroke="#222" stroke-width="0.7"/>
<line x1="220.30" y1="296.89" x2="221.50" y2="296.89" stroke="#222" stroke-width="0.7"/>
<line x1="218.90" y1="285.30" x2="221.50" y2="285.30" stroke="#222" stroke-width="0.7"/>
<text x="218.10" y="403.10" font-size="5.4" font-weight="bold" text-anchor="end">0.0</text>
<text x="218.10" y="379.92" font-size="5.4" font-weight="bold" text-anchor="end">0.2</text>
<text x="218.10" y="356.74" font-size="5.4" font-weight="bold" text-anchor="end">0.4</text>
<text x="218.10" y="333.56" font-size="5.4" font-weight="bold" text-anchor="end">0.6</text>
<text x="218.10" y="310.38" font-size="5.4" font-weight="bold" text-anchor="end">0.8</text>
<text x="218.10" y="287.20" font-size="5.4" font-weight="bold" text-anchor="end">1.0</text>
<line x1="221.80" y1="401.20" x2="221.80" y2="403.40" stroke="#222" stroke-width="0.6"/>
<line x1="224.25" y1="401.20" x2="224.25" y2="402.30" stroke="#222" stroke-width="0.6"/>
<line x1="226.69" y1="401.20" x2="226.69" y2="402.30" stroke="#222" stroke-width="0.6"/>
<line x1="229.14" y1="401.20" x2="229.14" y2="402.30" stroke="#222" stroke-width="0.6"/>
<line x1="231.58" y1="401.20" x2="231.58" y2="402.30" stroke="#222" stroke-width="0.6"/>
<line x1="234.03" y1="401.20" x2="234.03" y2="402.30" stroke="#222" stroke-width="0.6"/>
<line x1="236.48" y1="401.20" x2="236.48" y2="402.30" stroke="#222" stroke-width="0.6"/>
<line x1="238.92" y1="401.20" x2="238.92" y2="403.40" stroke="#222" stroke-width="0.6"/>
<line x1="241.37" y1="401.20" x2="241.37" y2="402.30" stroke="#222" stroke-width="0.6"/>
<line x1="243.81" y1="401.20" x2="243.81" y2="402.30" stroke="#222" stroke-width="0.6"/>
<line x1="246.26" y1="401.20" x2="246.26" y2="402.30" stroke="#222" stroke-width="0.6"/>
<line x1="248.71" y1="401.20" x2="248.71" y2="402.30" stroke="#222" stroke-width="0.6"/>
<line x1="251.15" y1="401.20" x2="251.15" y2="402.30" stroke="#222" stroke-width="0.6"/>
<line x1="253.60" y1="401.20" x2="253.60" y2="402.30" stroke="#222" stroke-width="0.6"/>
<line x1="256.04" y1="401.20" x2="256.04" y2="403.40" stroke="#222" stroke-width="0.6"/>
<line x1="258.49" y1="401.20" x2="258.49" y2="402.30" stroke="#222" stroke-width="0.6"/>
<line x1="260.94" y1="401.20" x2="260.94" y2="402.30" stroke="#222" stroke-width="0.6"/>
<line x1="263.38" y1="401.20" x2="263.38" y2="402.30" stroke="#222" stroke-width="0.6"/>
<line x1="265.83" y1="401.20" x2="265.83" y2="402.30" stroke="#222" stroke-width="0.6"/>
<line x1="268.27" y1="401.20" x2="268.27" y2="402.30" stroke="#222" stroke-width="0.6"/>
<line x1="270.72" y1="401.20" x2="270.72" y2="402.30" stroke="#222" stroke-width="0.6"/>
<line x1="273.17" y1="401.20" x2="273.17" y2="403.40" stroke="#222" stroke-width="0.6"/>
<line x1="275.61" y1="401.20" x2="275.61" y2="402.30" stroke="#222" stroke-width="0.6"/>
<line x1="278.06" y1="401.20" x2="278.06" y2="402.30" stroke="#222" stroke-width="0.6"/>
<line x1="280.50" y1="401.20" x2="280.50" y2="402.30" stroke="#222" stroke-width="0.6"/>
<line x1="282.95" y1="401.20" x2="282.95" y2="402.30" stroke="#222" stroke-width="0.6"/>
<line x1="285.40" y1="401.20" x2="285.40" y2="402.30" stroke="#222" stroke-width="0.6"/>
<line x1="287.84" y1="401.20" x2="287.84" y2="402.30" stroke="#222" stroke-width="0.6"/>
<line x1="290.29" y1="401.20" x2="290.29" y2="403.40" stroke="#222" stroke-width="0.6"/>
<line x1="292.73" y1="401.20" x2="292.73" y2="402.30" stroke="#222" stroke-width="0.6"/>
<line x1="295.18" y1="401.20" x2="295.18" y2="402.30" stroke="#222" stroke-width="0.6"/>
<line x1="297.63" y1="401.20" x2="297.63" y2="402.30" stroke="#222" stroke-width="0.6"/>
<line x1="300.07" y1="401.20" x2="300.07" y2="402.30" stroke="#222" stroke-width="0.6"/>
<line x1="302.52" y1="401.20" x2="302.52" y2="402.30" stroke="#222" stroke-width="0.6"/>
<line x1="304.96" y1="401.20" x2="304.96" y2="402.30" stroke="#222" stroke-width="0.6"/>
<line x1="307.41" y1="401.20" x2="307.41" y2="403.40" stroke="#222" stroke-width="0.6"/>
<line x1="309.86" y1="401.20" x2="309.86" y2="402.30" stroke="#222" stroke-width="0.6"/>
<line x1="312.30" y1="401.20" x2="312.30" y2="402.30" stroke="#222" stroke-width="0.6"/>
<line x1="314.75" y1="401.20" x2="314.75" y2="402.30" stroke="#222" stroke-width="0.6"/>
<line x1="317.19" y1="401.20" x2="317.19" y2="402.30" stroke="#222" stroke-width="0.6"/>
<line x1="319.64" y1="401.20" x2="319.64" y2="402.30" stroke="#222" stroke-width="0.6"/>
<line x1="322.09" y1="401.20" x2="322.09" y2="402.30" stroke="#222" stroke-width="0.6"/>
<line x1="324.53" y1="401.20" x2="324.53" y2="403.40" stroke="#222" stroke-width="0.6"/>
<line x1="326.98" y1="401.20" x2="326.98" y2="402.30" stroke="#222" stroke-width="0.6"/>
<line x1="329.42" y1="401.20" x2="329.42" y2="402.30" stroke="#222" stroke-width="0.6"/>
<line x1="331.87" y1="401.20" x2="331.87" y2="402.30" stroke="#222" stroke-width="0.6"/>
<line x1="334.32" y1="401.20" x2="334.32" y2="402.30" stroke="#222" stroke-width="0.6"/>
<line x1="336.76" y1="401.20" x2="336.76" y2="402.30" stroke="#222" stroke-width="0.6"/>
<line x1="339.21" y1="401.20" x2="339.21" y2="402.30" stroke="#222" stroke-width="0.6"/>
<line x1="341.65" y1="401.20" x2="341.65" y2="403.40" stroke="#222" stroke-width="0.6"/>
<line x1="344.10" y1="401.20" x2="344.10" y2="402.30" stroke="#222" stroke-width="0.6"/>
<line x1="346.55" y1="401.20" x2="346.55" y2="402.30" stroke="#222" stroke-width="0.6"/>
<line x1="348.99" y1="401.20" x2="348.99" y2="402.30" stroke="#222" stroke-width="0.6"/>
<line x1="351.44" y1="401.20" x2="351.44" y2="402.30" stroke="#222" stroke-width="0.6"/>
<line x1="353.88" y1="401.20" x2="353.88" y2="402.30" stroke="#222" stroke-width="0.6"/>
<line x1="356.33" y1="401.20" x2="356.33" y2="402.30" stroke="#222" stroke-width="0.6"/>
<line x1="358.78" y1="401.20" x2="358.78" y2="403.40" stroke="#222" stroke-width="0.6"/>
<line x1="361.22" y1="401.20" x2="361.22" y2="402.30" stroke="#222" stroke-width="0.6"/>
<line x1="363.67" y1="401.20" x2="363.67" y2="402.30" stroke="#222" stroke-width="0.6"/>
<line x1="366.11" y1="401.20" x2="366.11" y2="402.30" stroke="#222" stroke-width="0.6"/>
<line x1="368.56" y1="401.20" x2="368.56" y2="402.30" stroke="#222" stroke-width="0.6"/>
<line x1="371.01" y1="401.20" x2="371.01" y2="402.30" stroke="#222" stroke-width="0.6"/>
<line x1="373.45" y1="401.20" x2="373.45" y2="402.30" stroke="#222" stroke-width="0.6"/>
<line x1="375.90" y1="401.20" x2="375.90" y2="403.40" stroke="#222" stroke-width="0.6"/>
<text x="221.80" y="409.30" font-size="6.2" font-weight="bold" text-anchor="middle">0</text>
<text x="238.92" y="409.30" font-size="6.2" font-weight="bold" text-anchor="middle">7</text>
<text x="256.04" y="409.30" font-size="6.2" font-weight="bold" text-anchor="middle">14</text>
<text x="273.17" y="409.30" font-size="6.2" font-weight="bold" text-anchor="middle">21</text>
<text x="290.29" y="409.30" font-size="6.2" font-weight="bold" text-anchor="middle">28</text>
<text x="307.41" y="409.30" font-size="6.2" font-weight="bold" text-anchor="middle">35</text>
<text x="324.53" y="409.30" font-size="6.2" font-weight="bold" text-anchor="middle">42</text>
<text x="341.65" y="409.30" font-size="6.2" font-weight="bold" text-anchor="middle">49</text>
<text x="358.78" y="409.30" font-size="6.2" font-weight="bold" text-anchor="middle">56</text>
<text x="375.90" y="409.30" font-size="6.2" font-weight="bold" text-anchor="middle">63</text>
<text x="299.20" y="420.00" font-size="8.5" font-weight="bold" text-anchor="middle">Time [d]</text>
<text x="207.20" y="341.30" font-size="7.1" font-weight="bold" text-anchor="middle" transform="rotate(-90 207.20 341.30)">Fraction with Tumor volume &lt; 400 mm<tspan font-size="4.5" dy="-3">3</tspan></text>
<text x="249.40" y="400.20" font-size="5.3" fill="#ff4050">11 d</text>
<text x="281.70" y="400.20" font-size="5.3" fill="#c05a5a">24 d</text>
<text x="311.80" y="400.20" font-size="5.3" fill="#3232ff">36.5 d</text>
<text x="360.40" y="400.20" font-size="5.3" fill="#5a5ab8">&gt;57 d</text>
<line x1="311.50" y1="292.00" x2="319.80" y2="292.00" stroke="#ff4050" stroke-width="0.9"/>
<text x="322.30" y="293.80" font-size="5.25" font-weight="bold">Cal 33 Control (n=12)</text>
<line x1="311.50" y1="297.40" x2="319.80" y2="297.40" stroke="#c05a5a" stroke-width="0.9"/>
<text x="322.30" y="299.20" font-size="5.25" font-weight="bold">Cal 33 RTX (n=12)</text>
<line x1="311.50" y1="303.00" x2="319.80" y2="303.00" stroke="#3232ff" stroke-width="0.9"/>
<text x="322.30" y="304.80" font-size="5.25" font-weight="bold">UDSCC 2 Control (n=10)</text>
<line x1="311.50" y1="308.40" x2="319.80" y2="308.40" stroke="#7070c0" stroke-width="0.9"/>
<text x="322.30" y="310.20" font-size="5.25" font-weight="bold">UDSCC 2 RTX (n=10)</text>
<rect x="500.20" y="285.90" width="74.40" height="21.90" fill="#6e7074" filter="url(#sh)"/>
<rect x="497.20" y="282.90" width="74.40" height="21.90" fill="#99cccc"/>
<text x="534.40" y="292.50" font-size="7.3" font-weight="bold" text-anchor="middle" fill="#222">PCA-derived Scores</text>
<text x="534.40" y="300.50" font-size="7.3" font-weight="bold" text-anchor="middle" fill="#222">of Radioresistance</text>
<line x1="533.40" y1="304.80" x2="533.40" y2="316.20" stroke="#222" stroke-width="0.8"/>
<line x1="476.50" y1="316.20" x2="591.30" y2="316.20" stroke="#222" stroke-width="0.8"/>
<line x1="476.50" y1="316.20" x2="476.50" y2="327.00" stroke="#222" stroke-width="0.8"/>
<line x1="591.30" y1="316.20" x2="591.30" y2="327.00" stroke="#222" stroke-width="0.8"/>
<polygon points="474.90,326.50 478.10,326.50 476.50,330.00" fill="#222"/>
<polygon points="589.70,326.50 592.90,326.50 591.30,330.00" fill="#222"/>
<text x="484.10" y="330.70" font-size="10.9" fill="#222">Correlation Analyses</text>
<rect x="395.70" y="337.80" width="136.40" height="55.40" fill="#6e7074" filter="url(#sh)"/>
<rect x="392.70" y="334.80" width="136.40" height="55.40" fill="#ffcc99"/>
<rect x="543.50" y="337.80" width="135.70" height="56.10" fill="#6e7074" filter="url(#sh)"/>
<rect x="540.50" y="334.80" width="135.70" height="56.10" fill="#ffffcc"/>
<text x="460.90" y="344.90" font-size="7.33" font-weight="bold" text-anchor="middle" fill="#111">Low Density qRT-PCR Profiling</text>
<text x="460.90" y="353.00" font-size="7.33" font-weight="bold" text-anchor="middle" fill="#111">DNA Damage Response Regulators</text>
<text x="405.10" y="369.90" font-size="7.3" fill="#222">- Detection of DNA Damage</text>
<text x="405.10" y="378.20" font-size="7.3" fill="#222">- Double-strand break repair</text>
<text x="608.35" y="344.90" font-size="7.33" font-weight="bold" text-anchor="middle" fill="#111">Functional Data on Radiation-induced</text>
<text x="608.35" y="353.00" font-size="7.33" font-weight="bold" text-anchor="middle" fill="#111">Cell Death Modalities</text>
<text x="555.80" y="369.90" font-size="7.3" fill="#222">- Apoptosis Induction</text>
<text x="555.80" y="378.00" font-size="7.3" fill="#222">- Senescence Induction</text>
<text x="555.80" y="385.90" font-size="7.3" fill="#222">- Production of SASP cytokines</text>
</svg>
</body></html>
